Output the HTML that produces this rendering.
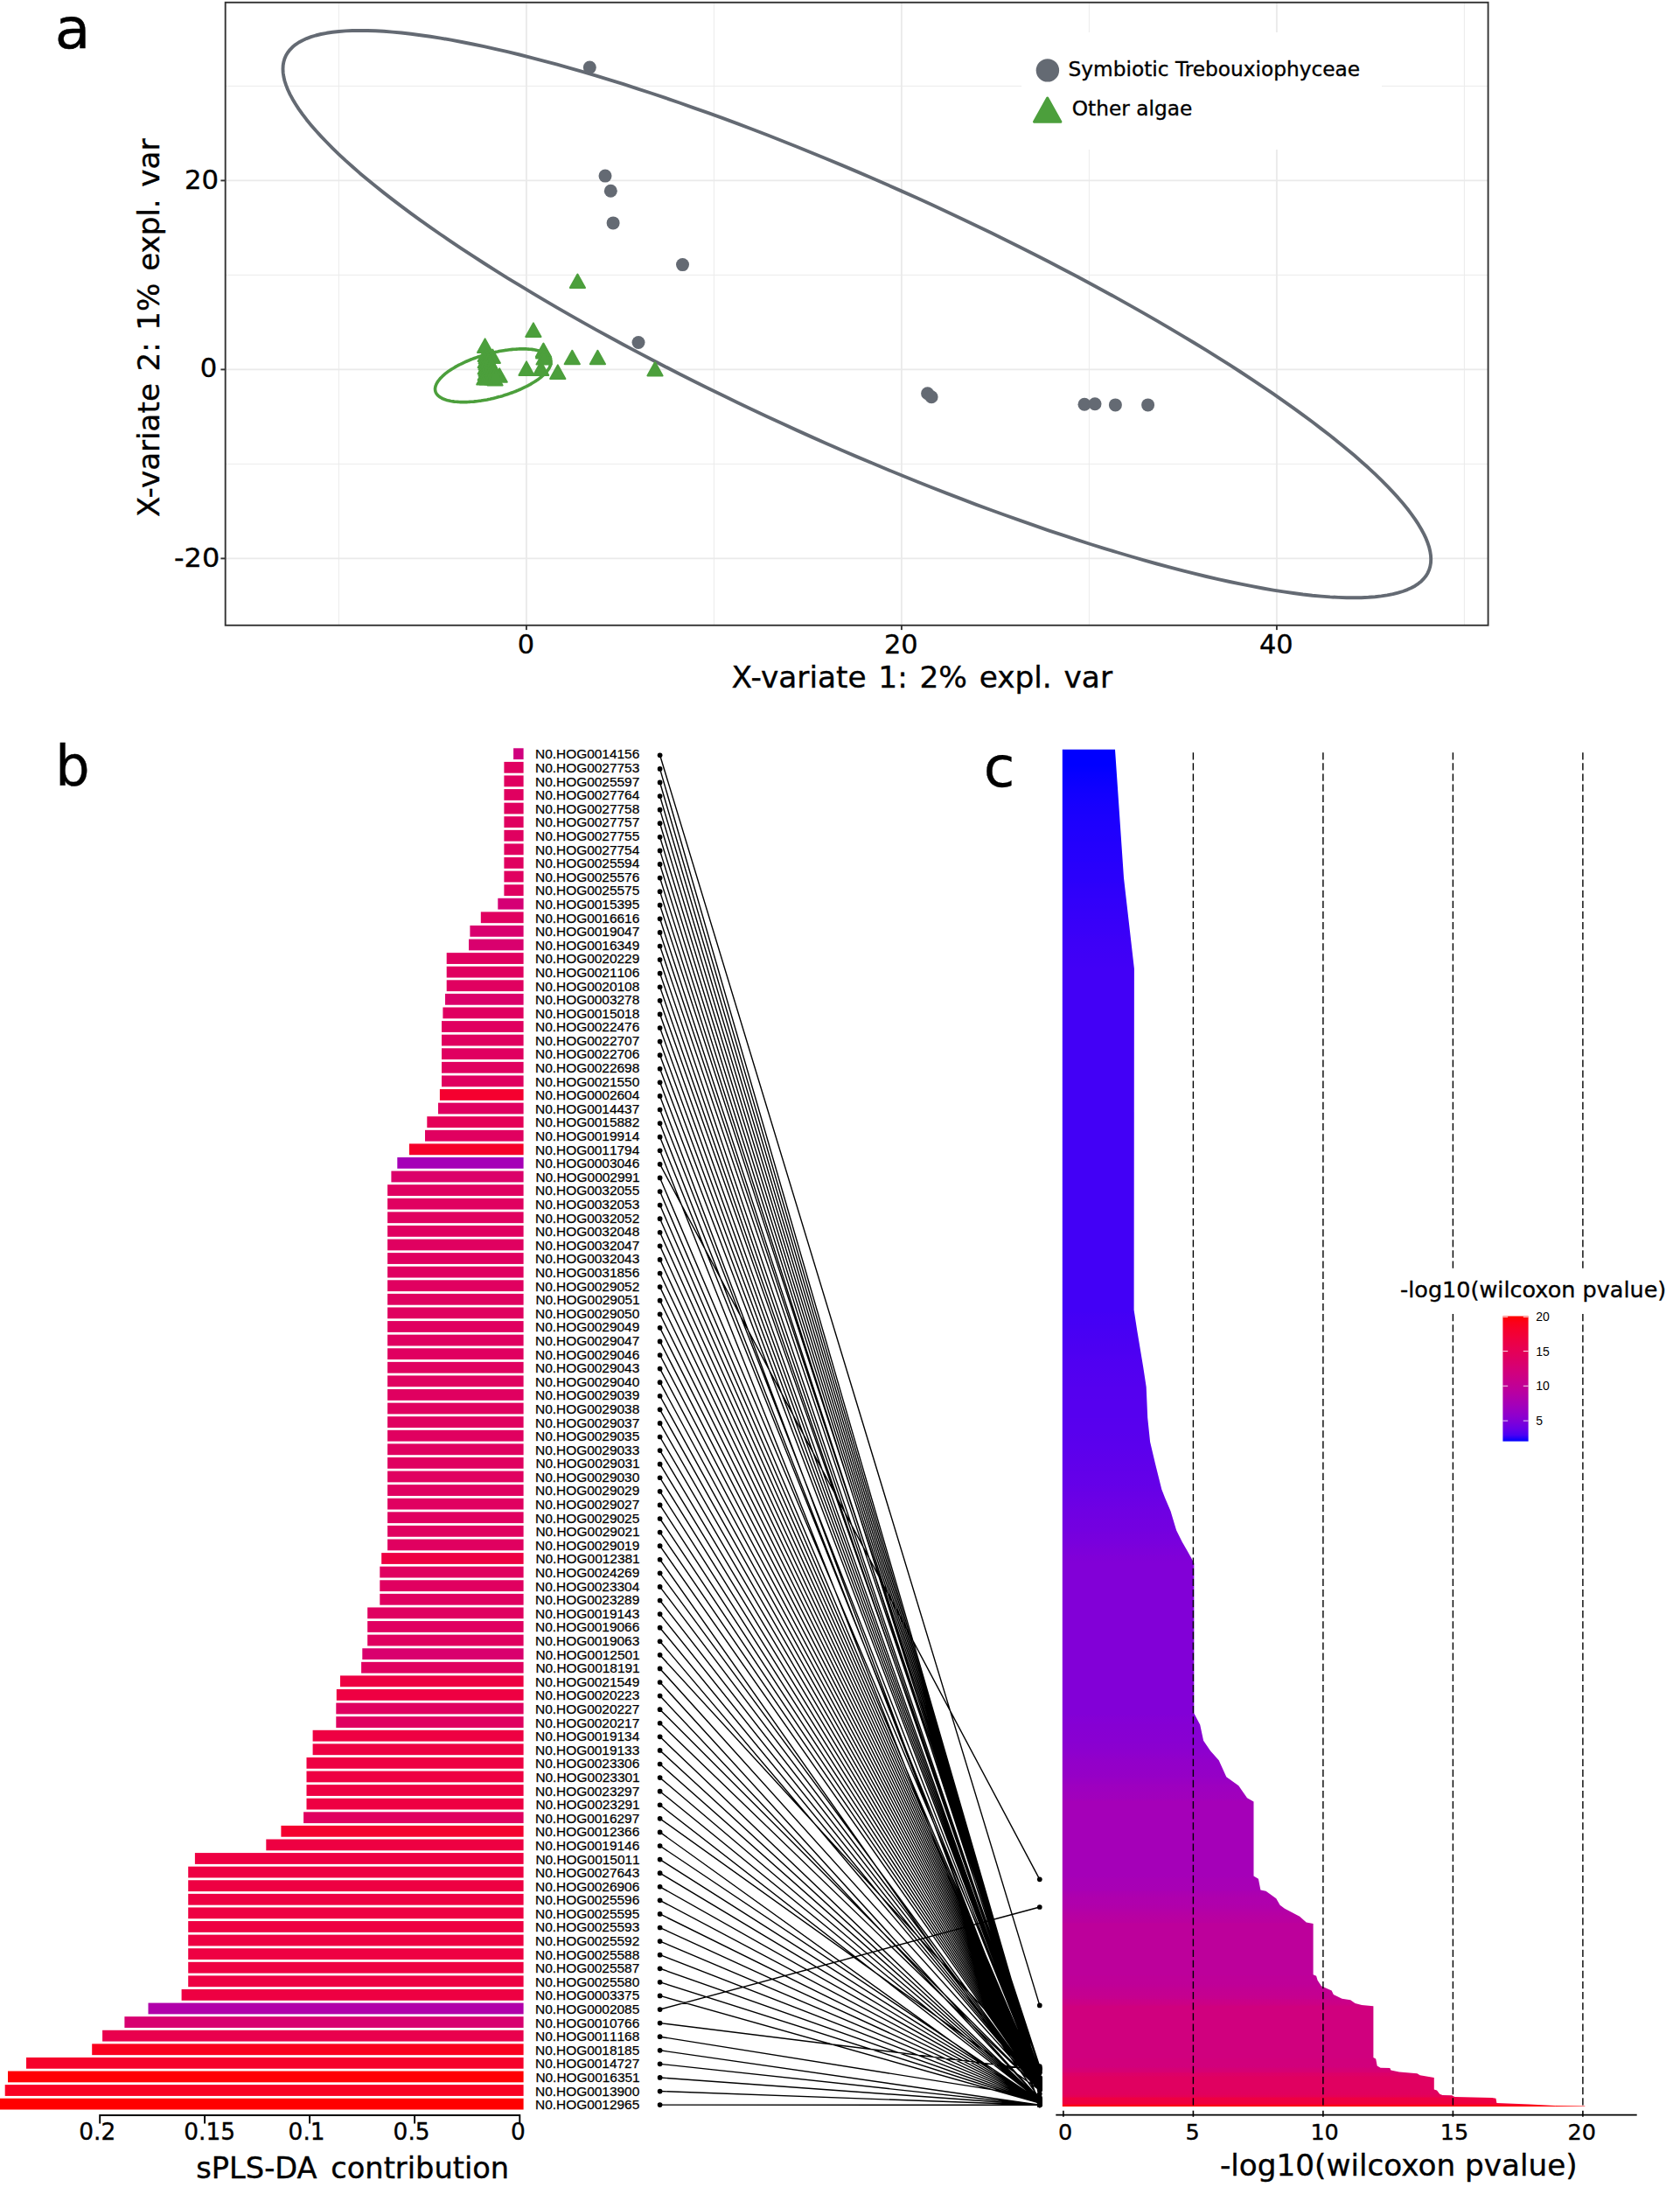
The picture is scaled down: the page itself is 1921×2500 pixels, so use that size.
<!DOCTYPE html>
<html lang="en"><head><meta charset="utf-8"><title>sPLS-DA figure</title>
<style>html,body{margin:0;padding:0;background:#fff}svg{display:block}</style></head>
<body><svg width="1921" height="2500" viewBox="0 0 1921 2500">
<rect width="1921" height="2500" fill="#fff"/>
<g id="panel-a">
<line x1="387.4" y1="2.8" x2="387.4" y2="714.8" stroke="#EBEBEB" stroke-width="1.0"/>
<line x1="816.4" y1="2.8" x2="816.4" y2="714.8" stroke="#EBEBEB" stroke-width="1.0"/>
<line x1="1245.4" y1="2.8" x2="1245.4" y2="714.8" stroke="#EBEBEB" stroke-width="1.0"/>
<line x1="1674.4" y1="2.8" x2="1674.4" y2="714.8" stroke="#EBEBEB" stroke-width="1.0"/>
<line x1="257.7" y1="98.4" x2="1701.6" y2="98.4" stroke="#EBEBEB" stroke-width="1.0"/>
<line x1="257.7" y1="314.4" x2="1701.6" y2="314.4" stroke="#EBEBEB" stroke-width="1.0"/>
<line x1="257.7" y1="530.4" x2="1701.6" y2="530.4" stroke="#EBEBEB" stroke-width="1.0"/>
<line x1="601.9" y1="2.8" x2="601.9" y2="714.8" stroke="#EAEAEA" stroke-width="1.9"/>
<line x1="1030.9" y1="2.8" x2="1030.9" y2="714.8" stroke="#EAEAEA" stroke-width="1.9"/>
<line x1="1459.9" y1="2.8" x2="1459.9" y2="714.8" stroke="#EAEAEA" stroke-width="1.9"/>
<line x1="257.7" y1="206.4" x2="1701.6" y2="206.4" stroke="#EAEAEA" stroke-width="1.9"/>
<line x1="257.7" y1="422.4" x2="1701.6" y2="422.4" stroke="#EAEAEA" stroke-width="1.9"/>
<line x1="257.7" y1="638.4" x2="1701.6" y2="638.4" stroke="#EAEAEA" stroke-width="1.9"/>
<rect x="1168" y="37" width="412" height="134" fill="#fff"/>
<polygon points="1636.2,639.4 1636.0,643.5 1635.3,647.5 1634.2,651.3 1632.6,654.9 1630.6,658.2 1628.1,661.4 1625.2,664.4 1621.9,667.1 1618.1,669.7 1613.8,672.0 1609.2,674.1 1604.1,676.0 1598.6,677.7 1592.6,679.2 1586.2,680.4 1579.5,681.4 1572.3,682.2 1564.7,682.8 1556.7,683.2 1548.3,683.3 1539.5,683.2 1530.3,682.9 1520.8,682.4 1510.8,681.6 1500.6,680.7 1489.9,679.5 1478.9,678.0 1467.6,676.4 1455.9,674.6 1444.0,672.5 1431.7,670.2 1419.0,667.7 1406.1,665.0 1392.9,662.1 1379.4,659.0 1365.6,655.7 1351.6,652.1 1337.3,648.4 1322.8,644.5 1308.0,640.4 1293.0,636.0 1277.8,631.5 1262.4,626.8 1246.8,622.0 1231.0,616.9 1215.1,611.7 1198.9,606.3 1182.7,600.7 1166.3,594.9 1149.7,589.0 1133.1,583.0 1116.3,576.8 1099.5,570.4 1082.5,563.9 1065.5,557.2 1048.5,550.5 1031.3,543.5 1014.2,536.5 997.0,529.3 979.9,522.1 962.7,514.7 945.5,507.2 928.4,499.6 911.2,491.9 894.2,484.1 877.2,476.2 860.2,468.2 843.4,460.2 826.6,452.1 810.0,444.0 793.4,435.7 777.0,427.5 760.8,419.2 744.6,410.8 728.7,402.4 712.9,394.0 697.3,385.5 681.9,377.1 666.7,368.6 651.7,360.1 636.9,351.6 622.4,343.1 608.1,334.6 594.1,326.2 580.3,317.8 566.8,309.4 553.6,301.0 540.7,292.7 528.0,284.4 515.7,276.1 503.8,268.0 492.1,259.9 480.8,251.8 469.8,243.8 459.1,235.9 448.9,228.1 438.9,220.4 429.4,212.8 420.2,205.3 411.4,197.9 403.0,190.5 395.0,183.4 387.4,176.3 380.2,169.3 373.5,162.5 367.1,155.8 361.1,149.3 355.6,142.9 350.5,136.7 345.9,130.6 341.6,124.6 337.8,118.8 334.5,113.2 331.6,107.8 329.1,102.5 327.1,97.4 325.5,92.5 324.4,87.7 323.7,83.2 323.5,78.8 323.7,74.7 324.4,70.7 325.5,66.9 327.1,63.3 329.1,60.0 331.6,56.8 334.5,53.8 337.8,51.1 341.6,48.5 345.9,46.2 350.5,44.1 355.6,42.2 361.1,40.5 367.1,39.0 373.5,37.8 380.2,36.8 387.4,36.0 395.0,35.4 403.0,35.0 411.4,34.9 420.2,35.0 429.4,35.3 438.9,35.8 448.9,36.6 459.1,37.5 469.8,38.7 480.8,40.2 492.1,41.8 503.8,43.6 515.7,45.7 528.0,48.0 540.7,50.5 553.6,53.2 566.8,56.1 580.3,59.2 594.1,62.5 608.1,66.1 622.4,69.8 636.9,73.7 651.7,77.8 666.7,82.2 681.9,86.7 697.3,91.4 712.9,96.2 728.7,101.3 744.6,106.5 760.8,111.9 777.0,117.5 793.4,123.3 810.0,129.2 826.6,135.2 843.4,141.4 860.2,147.8 877.2,154.3 894.2,161.0 911.2,167.7 928.4,174.7 945.5,181.7 962.7,188.9 979.8,196.1 997.0,203.5 1014.2,211.0 1031.3,218.6 1048.5,226.3 1065.5,234.1 1082.5,242.0 1099.5,250.0 1116.3,258.0 1133.1,266.1 1149.7,274.2 1166.3,282.5 1182.7,290.7 1198.9,299.0 1215.1,307.4 1231.0,315.8 1246.8,324.2 1262.4,332.7 1277.8,341.1 1293.0,349.6 1308.0,358.1 1322.8,366.6 1337.3,375.1 1351.6,383.6 1365.6,392.0 1379.4,400.4 1392.9,408.8 1406.1,417.2 1419.0,425.5 1431.7,433.8 1444.0,442.1 1455.9,450.2 1467.6,458.3 1478.9,466.4 1489.9,474.4 1500.6,482.3 1510.8,490.1 1520.8,497.8 1530.3,505.4 1539.5,512.9 1548.3,520.3 1556.7,527.7 1564.7,534.8 1572.3,541.9 1579.5,548.9 1586.2,555.7 1592.6,562.4 1598.6,568.9 1604.1,575.3 1609.2,581.5 1613.8,587.6 1618.1,593.6 1621.9,599.4 1625.2,605.0 1628.1,610.4 1630.6,615.7 1632.6,620.8 1634.2,625.7 1635.3,630.5 1636.0,635.0" fill="none" stroke="#646A73" stroke-width="3.9" stroke-linejoin="round"/>
<polygon points="630.0,413.7 630.0,414.4 630.0,415.1 629.8,415.8 629.7,416.6 629.5,417.3 629.2,418.0 628.9,418.8 628.6,419.5 628.2,420.3 627.8,421.0 627.3,421.8 626.8,422.6 626.2,423.4 625.6,424.1 625.0,424.9 624.3,425.7 623.6,426.5 622.8,427.3 622.0,428.1 621.2,428.9 620.3,429.7 619.4,430.5 618.4,431.3 617.4,432.1 616.4,432.9 615.3,433.7 614.2,434.4 613.0,435.2 611.9,436.0 610.6,436.8 609.4,437.5 608.1,438.3 606.8,439.1 605.5,439.8 604.1,440.6 602.7,441.3 601.3,442.0 599.9,442.7 598.4,443.4 596.9,444.1 595.4,444.8 593.9,445.5 592.3,446.2 590.7,446.8 589.2,447.5 587.5,448.1 585.9,448.7 584.3,449.3 582.6,449.9 580.9,450.5 579.3,451.1 577.6,451.6 575.9,452.1 574.2,452.7 572.4,453.2 570.7,453.6 569.0,454.1 567.3,454.6 565.5,455.0 563.8,455.4 562.1,455.8 560.3,456.2 558.6,456.5 556.9,456.9 555.2,457.2 553.4,457.5 551.7,457.8 550.0,458.1 548.3,458.3 546.7,458.5 545.0,458.7 543.3,458.9 541.7,459.1 540.1,459.2 538.4,459.3 536.9,459.4 535.3,459.5 533.7,459.6 532.2,459.6 530.7,459.6 529.2,459.6 527.7,459.6 526.3,459.6 524.9,459.5 523.5,459.4 522.1,459.3 520.8,459.2 519.5,459.1 518.2,458.9 517.0,458.7 515.7,458.5 514.6,458.3 513.4,458.0 512.3,457.8 511.2,457.5 510.2,457.2 509.2,456.8 508.2,456.5 507.3,456.1 506.4,455.8 505.6,455.4 504.8,454.9 504.0,454.5 503.3,454.0 502.6,453.6 502.0,453.1 501.4,452.6 500.8,452.1 500.3,451.5 499.8,451.0 499.4,450.4 499.0,449.9 498.7,449.3 498.4,448.7 498.1,448.0 497.9,447.4 497.8,446.8 497.6,446.1 497.6,445.4 497.5,444.8 497.6,444.1 497.6,443.4 497.8,442.7 497.9,441.9 498.1,441.2 498.4,440.5 498.7,439.7 499.0,439.0 499.4,438.2 499.8,437.5 500.3,436.7 500.8,435.9 501.4,435.1 502.0,434.4 502.6,433.6 503.3,432.8 504.0,432.0 504.8,431.2 505.6,430.4 506.4,429.6 507.3,428.8 508.2,428.0 509.2,427.2 510.2,426.4 511.2,425.6 512.3,424.8 513.4,424.1 514.6,423.3 515.7,422.5 517.0,421.7 518.2,421.0 519.5,420.2 520.8,419.4 522.1,418.7 523.5,417.9 524.9,417.2 526.3,416.5 527.7,415.8 529.2,415.1 530.7,414.4 532.2,413.7 533.7,413.0 535.3,412.3 536.9,411.7 538.4,411.0 540.1,410.4 541.7,409.8 543.3,409.2 545.0,408.6 546.7,408.0 548.3,407.4 550.0,406.9 551.7,406.4 553.4,405.8 555.2,405.3 556.9,404.9 558.6,404.4 560.3,403.9 562.1,403.5 563.8,403.1 565.5,402.7 567.3,402.3 569.0,402.0 570.7,401.6 572.4,401.3 574.2,401.0 575.9,400.7 577.6,400.4 579.3,400.2 580.9,400.0 582.6,399.8 584.3,399.6 585.9,399.4 587.5,399.3 589.2,399.2 590.7,399.1 592.3,399.0 593.9,398.9 595.4,398.9 596.9,398.9 598.4,398.9 599.9,398.9 601.3,398.9 602.7,399.0 604.1,399.1 605.5,399.2 606.8,399.3 608.1,399.4 609.4,399.6 610.6,399.8 611.9,400.0 613.0,400.2 614.2,400.5 615.3,400.7 616.4,401.0 617.4,401.3 618.4,401.7 619.4,402.0 620.3,402.4 621.2,402.7 622.0,403.1 622.8,403.6 623.6,404.0 624.3,404.5 625.0,404.9 625.6,405.4 626.2,405.9 626.8,406.4 627.3,407.0 627.8,407.5 628.2,408.1 628.6,408.6 628.9,409.2 629.2,409.8 629.5,410.5 629.7,411.1 629.8,411.7 630.0,412.4 630.0,413.1" fill="none" stroke="#4C9F3C" stroke-width="3.6" stroke-linejoin="round"/>
<circle cx="674.3" cy="77.1" r="7.5" fill="#646A73"/>
<circle cx="692" cy="201.1" r="7.5" fill="#646A73"/>
<circle cx="698.3" cy="218.3" r="7.5" fill="#646A73"/>
<circle cx="701.1" cy="254.9" r="7.5" fill="#646A73"/>
<circle cx="780.5" cy="302.6" r="7.5" fill="#646A73"/>
<circle cx="730.0" cy="391.5" r="7.5" fill="#646A73"/>
<circle cx="1060.6" cy="449.7" r="7.5" fill="#646A73"/>
<circle cx="1065.1" cy="453.7" r="7.5" fill="#646A73"/>
<circle cx="1240" cy="462.3" r="7.5" fill="#646A73"/>
<circle cx="1252" cy="461.7" r="7.5" fill="#646A73"/>
<circle cx="1275.4" cy="462.9" r="7.5" fill="#646A73"/>
<circle cx="1312.6" cy="462.9" r="7.5" fill="#646A73"/>
<polygon points="660.4,313.5 651.8,329.0 669.0,329.0" fill="#4C9F3C" stroke="#4C9F3C" stroke-width="2" stroke-linejoin="round"/>
<polygon points="609.9,369.4 601.2,384.9 618.5,384.9" fill="#4C9F3C" stroke="#4C9F3C" stroke-width="2" stroke-linejoin="round"/>
<polygon points="654.3,400.7 645.6,416.2 662.9,416.2" fill="#4C9F3C" stroke="#4C9F3C" stroke-width="2" stroke-linejoin="round"/>
<polygon points="683.4,400.7 674.8,416.2 692.0,416.2" fill="#4C9F3C" stroke="#4C9F3C" stroke-width="2" stroke-linejoin="round"/>
<polygon points="749.0,414.0 740.4,429.5 757.6,429.5" fill="#4C9F3C" stroke="#4C9F3C" stroke-width="2" stroke-linejoin="round"/>
<polygon points="637.8,417.4 629.1,432.9 646.4,432.9" fill="#4C9F3C" stroke="#4C9F3C" stroke-width="2" stroke-linejoin="round"/>
<polygon points="602.0,413.4 593.4,428.9 610.6,428.9" fill="#4C9F3C" stroke="#4C9F3C" stroke-width="2" stroke-linejoin="round"/>
<polygon points="621.4,392.5 612.8,408.0 630.0,408.0" fill="#4C9F3C" stroke="#4C9F3C" stroke-width="2" stroke-linejoin="round"/>
<polygon points="621.7,394.1 613.1,409.6 630.4,409.6" fill="#4C9F3C" stroke="#4C9F3C" stroke-width="2" stroke-linejoin="round"/>
<polygon points="622.1,401.1 613.5,416.6 630.8,416.6" fill="#4C9F3C" stroke="#4C9F3C" stroke-width="2" stroke-linejoin="round"/>
<polygon points="618.6,413.4 610.0,428.9 627.2,428.9" fill="#4C9F3C" stroke="#4C9F3C" stroke-width="2" stroke-linejoin="round"/>
<polygon points="554.6,387.4 546.0,402.9 563.2,402.9" fill="#4C9F3C" stroke="#4C9F3C" stroke-width="2" stroke-linejoin="round"/>
<polygon points="563.2,399.5 554.6,415.0 571.9,415.0" fill="#4C9F3C" stroke="#4C9F3C" stroke-width="2" stroke-linejoin="round"/>
<polygon points="571.1,421.3 562.5,436.8 579.8,436.8" fill="#4C9F3C" stroke="#4C9F3C" stroke-width="2" stroke-linejoin="round"/>
<polygon points="566.0,424.9 557.4,440.4 574.6,440.4" fill="#4C9F3C" stroke="#4C9F3C" stroke-width="2" stroke-linejoin="round"/>
<polygon points="553.9,424.1 545.2,439.6 562.5,439.6" fill="#4C9F3C" stroke="#4C9F3C" stroke-width="2" stroke-linejoin="round"/>
<polygon points="560.0,423.0 551.4,438.5 568.6,438.5" fill="#4C9F3C" stroke="#4C9F3C" stroke-width="2" stroke-linejoin="round"/>
<polygon points="563.0,424.0 554.4,439.5 571.6,439.5" fill="#4C9F3C" stroke="#4C9F3C" stroke-width="2" stroke-linejoin="round"/>
<polygon points="555.2,397.5 546.6,413.0 563.9,413.0" fill="#4C9F3C" stroke="#4C9F3C" stroke-width="2" stroke-linejoin="round"/>
<polygon points="556.1,399.9 547.5,415.4 564.8,415.4" fill="#4C9F3C" stroke="#4C9F3C" stroke-width="2" stroke-linejoin="round"/>
<polygon points="557.0,402.3 548.4,417.8 565.6,417.8" fill="#4C9F3C" stroke="#4C9F3C" stroke-width="2" stroke-linejoin="round"/>
<polygon points="555.2,404.7 546.6,420.2 563.9,420.2" fill="#4C9F3C" stroke="#4C9F3C" stroke-width="2" stroke-linejoin="round"/>
<polygon points="556.1,407.1 547.5,422.6 564.8,422.6" fill="#4C9F3C" stroke="#4C9F3C" stroke-width="2" stroke-linejoin="round"/>
<polygon points="557.0,409.5 548.4,425.0 565.6,425.0" fill="#4C9F3C" stroke="#4C9F3C" stroke-width="2" stroke-linejoin="round"/>
<polygon points="555.2,411.9 546.6,427.4 563.9,427.4" fill="#4C9F3C" stroke="#4C9F3C" stroke-width="2" stroke-linejoin="round"/>
<polygon points="556.1,414.3 547.5,429.8 564.8,429.8" fill="#4C9F3C" stroke="#4C9F3C" stroke-width="2" stroke-linejoin="round"/>
<polygon points="557.0,416.7 548.4,432.2 565.6,432.2" fill="#4C9F3C" stroke="#4C9F3C" stroke-width="2" stroke-linejoin="round"/>
<polygon points="555.2,419.1 546.6,434.6 563.9,434.6" fill="#4C9F3C" stroke="#4C9F3C" stroke-width="2" stroke-linejoin="round"/>
<polygon points="556.1,421.5 547.5,437.0 564.8,437.0" fill="#4C9F3C" stroke="#4C9F3C" stroke-width="2" stroke-linejoin="round"/>
<polygon points="557.0,423.9 548.4,439.4 565.6,439.4" fill="#4C9F3C" stroke="#4C9F3C" stroke-width="2" stroke-linejoin="round"/>
<polygon points="559.0,404.5 550.4,420.0 567.6,420.0" fill="#4C9F3C" stroke="#4C9F3C" stroke-width="2" stroke-linejoin="round"/>
<polygon points="560.6,407.7 552.0,423.2 569.2,423.2" fill="#4C9F3C" stroke="#4C9F3C" stroke-width="2" stroke-linejoin="round"/>
<polygon points="562.2,410.9 553.6,426.4 570.9,426.4" fill="#4C9F3C" stroke="#4C9F3C" stroke-width="2" stroke-linejoin="round"/>
<polygon points="563.8,414.1 555.1,429.6 572.4,429.6" fill="#4C9F3C" stroke="#4C9F3C" stroke-width="2" stroke-linejoin="round"/>
<polygon points="565.4,417.3 556.8,432.8 574.0,432.8" fill="#4C9F3C" stroke="#4C9F3C" stroke-width="2" stroke-linejoin="round"/>
<polygon points="567.0,420.5 558.4,436.0 575.6,436.0" fill="#4C9F3C" stroke="#4C9F3C" stroke-width="2" stroke-linejoin="round"/>
<rect x="257.7" y="2.8" width="1443.8999999999999" height="712.0" fill="none" stroke="#333" stroke-width="1.9"/>
<line x1="601.9" y1="714.8" x2="601.9" y2="720.0999999999999" stroke="#333" stroke-width="1.9"/>
<line x1="1030.9" y1="714.8" x2="1030.9" y2="720.0999999999999" stroke="#333" stroke-width="1.9"/>
<line x1="1459.9" y1="714.8" x2="1459.9" y2="720.0999999999999" stroke="#333" stroke-width="1.9"/>
<line x1="252.39999999999998" y1="206.4" x2="257.7" y2="206.4" stroke="#333" stroke-width="1.9"/>
<line x1="252.39999999999998" y1="422.4" x2="257.7" y2="422.4" stroke="#333" stroke-width="1.9"/>
<line x1="252.39999999999998" y1="638.4" x2="257.7" y2="638.4" stroke="#333" stroke-width="1.9"/>
<text transform="translate(601.30,747.10) scale(0.9800,1)" font-family="'DejaVu Sans','Verdana',sans-serif" font-size="31" text-anchor="middle" fill="#000" stroke="#000" stroke-width="0.35">0</text>
<text transform="translate(1030.30,747.10) scale(0.9800,1)" font-family="'DejaVu Sans','Verdana',sans-serif" font-size="31" text-anchor="middle" fill="#000" stroke="#000" stroke-width="0.35">20</text>
<text transform="translate(1459.30,747.10) scale(0.9800,1)" font-family="'DejaVu Sans','Verdana',sans-serif" font-size="31" text-anchor="middle" fill="#000" stroke="#000" stroke-width="0.35">40</text>
<text transform="translate(250.10,216.00)" font-family="'DejaVu Sans','Verdana',sans-serif" font-size="30.7" text-anchor="end" fill="#000" stroke="#000" stroke-width="0.35">20</text>
<text transform="translate(248.20,431.10)" font-family="'DejaVu Sans','Verdana',sans-serif" font-size="30.7" text-anchor="end" fill="#000" stroke="#000" stroke-width="0.35">0</text>
<text transform="translate(251.20,647.50) scale(1.0400,1)" font-family="'DejaVu Sans','Verdana',sans-serif" font-size="30.7" text-anchor="end" fill="#000" stroke="#000" stroke-width="0.35">-20</text>
<text transform="translate(1054.30,786.00) scale(1.0200,1)" font-family="'DejaVu Sans','Verdana',sans-serif" font-size="33.7" word-spacing="2.75" text-anchor="middle" fill="#000" stroke="#000" stroke-width="0.35">X-variate 1: 2% expl. var</text>
<text transform="translate(182.20,374.80) rotate(-90) scale(1.0130,1)" font-family="'DejaVu Sans','Verdana',sans-serif" font-size="33.7" word-spacing="2.75" text-anchor="middle" fill="#000" stroke="#000" stroke-width="0.35">X-variate 2: 1% expl. var</text>
<circle cx="1197.9" cy="80.4" r="13.2" fill="#646A73"/>
<polygon points="1197.7,112 1182.5,139.2 1212.9,139.2" fill="#4C9F3C" stroke="#4C9F3C" stroke-width="3" stroke-linejoin="round"/>
<text transform="translate(1221.50,86.70) scale(0.9900,1)" font-family="'DejaVu Sans','Verdana',sans-serif" font-size="23.5" text-anchor="start" fill="#000" stroke="#000" stroke-width="0.35">Symbiotic Trebouxiophyceae</text>
<text transform="translate(1225.80,131.70) scale(0.9900,1)" font-family="'DejaVu Sans','Verdana',sans-serif" font-size="23.5" text-anchor="start" fill="#000" stroke="#000" stroke-width="0.35">Other algae</text>
<text transform="translate(62.70,55.20) scale(1.0300,1)" font-family="'DejaVu Sans','Verdana',sans-serif" font-size="64.5" text-anchor="start" fill="#000" stroke="#000" stroke-width="0.35">a</text>
</g>
<g id="panel-b">
<text transform="translate(63.20,898.00) scale(0.9700,1)" font-family="'DejaVu Sans','Verdana',sans-serif" font-size="64" text-anchor="start" fill="#000" stroke="#000" stroke-width="0.35">b</text>
<rect x="587.1" y="855.30" width="11.5" height="12.8" fill="#D0007E"/>
<rect x="576.4" y="870.89" width="22.2" height="12.8" fill="#E00060"/>
<rect x="576.4" y="886.48" width="22.2" height="12.8" fill="#E00060"/>
<rect x="576.4" y="902.07" width="22.2" height="12.8" fill="#E00060"/>
<rect x="576.4" y="917.66" width="22.2" height="12.8" fill="#E00060"/>
<rect x="576.4" y="933.25" width="22.2" height="12.8" fill="#E00060"/>
<rect x="576.4" y="948.84" width="22.2" height="12.8" fill="#E00060"/>
<rect x="576.4" y="964.43" width="22.2" height="12.8" fill="#E00060"/>
<rect x="576.4" y="980.02" width="22.2" height="12.8" fill="#E00060"/>
<rect x="576.4" y="995.61" width="22.2" height="12.8" fill="#E00060"/>
<rect x="576.4" y="1011.20" width="22.2" height="12.8" fill="#E00060"/>
<rect x="569.3" y="1026.79" width="29.3" height="12.8" fill="#D50075"/>
<rect x="549.8" y="1042.38" width="48.8" height="12.8" fill="#E00060"/>
<rect x="537.4" y="1057.97" width="61.2" height="12.8" fill="#D9006E"/>
<rect x="536.0" y="1073.56" width="62.6" height="12.8" fill="#D9006E"/>
<rect x="510.7" y="1089.15" width="87.9" height="12.8" fill="#E00060"/>
<rect x="510.7" y="1104.74" width="87.9" height="12.8" fill="#E00060"/>
<rect x="510.7" y="1120.33" width="87.9" height="12.8" fill="#E00060"/>
<rect x="509.0" y="1135.92" width="89.6" height="12.8" fill="#DB006A"/>
<rect x="506.4" y="1151.51" width="92.2" height="12.8" fill="#E00060"/>
<rect x="505.0" y="1167.10" width="93.6" height="12.8" fill="#E00060"/>
<rect x="505.0" y="1182.69" width="93.6" height="12.8" fill="#E00060"/>
<rect x="505.0" y="1198.28" width="93.6" height="12.8" fill="#E00060"/>
<rect x="505.0" y="1213.87" width="93.6" height="12.8" fill="#E00060"/>
<rect x="505.0" y="1229.46" width="93.6" height="12.8" fill="#E00060"/>
<rect x="502.9" y="1245.05" width="95.7" height="12.8" fill="#F5002F"/>
<rect x="501.0" y="1260.64" width="97.6" height="12.8" fill="#E00060"/>
<rect x="488.3" y="1276.23" width="110.3" height="12.8" fill="#E50057"/>
<rect x="486.0" y="1291.82" width="112.6" height="12.8" fill="#E00060"/>
<rect x="467.9" y="1307.41" width="130.7" height="12.8" fill="#F6002A"/>
<rect x="454.3" y="1323.00" width="144.3" height="12.8" fill="#A500B7"/>
<rect x="447.4" y="1338.59" width="151.2" height="12.8" fill="#DB006A"/>
<rect x="443.1" y="1354.18" width="155.5" height="12.8" fill="#E00060"/>
<rect x="443.1" y="1369.77" width="155.5" height="12.8" fill="#E00060"/>
<rect x="443.1" y="1385.36" width="155.5" height="12.8" fill="#E00060"/>
<rect x="443.1" y="1400.95" width="155.5" height="12.8" fill="#E00060"/>
<rect x="443.1" y="1416.54" width="155.5" height="12.8" fill="#E00060"/>
<rect x="443.1" y="1432.13" width="155.5" height="12.8" fill="#E00060"/>
<rect x="443.1" y="1447.72" width="155.5" height="12.8" fill="#E00060"/>
<rect x="443.1" y="1463.31" width="155.5" height="12.8" fill="#E00060"/>
<rect x="443.1" y="1478.90" width="155.5" height="12.8" fill="#E00060"/>
<rect x="443.1" y="1494.49" width="155.5" height="12.8" fill="#E00060"/>
<rect x="443.1" y="1510.08" width="155.5" height="12.8" fill="#E00060"/>
<rect x="443.1" y="1525.67" width="155.5" height="12.8" fill="#E00060"/>
<rect x="443.1" y="1541.26" width="155.5" height="12.8" fill="#E00060"/>
<rect x="443.1" y="1556.85" width="155.5" height="12.8" fill="#E00060"/>
<rect x="443.1" y="1572.44" width="155.5" height="12.8" fill="#E00060"/>
<rect x="443.1" y="1588.03" width="155.5" height="12.8" fill="#E00060"/>
<rect x="443.1" y="1603.62" width="155.5" height="12.8" fill="#E00060"/>
<rect x="443.1" y="1619.21" width="155.5" height="12.8" fill="#E00060"/>
<rect x="443.1" y="1634.80" width="155.5" height="12.8" fill="#E00060"/>
<rect x="443.1" y="1650.39" width="155.5" height="12.8" fill="#E00060"/>
<rect x="443.1" y="1665.98" width="155.5" height="12.8" fill="#E00060"/>
<rect x="443.1" y="1681.57" width="155.5" height="12.8" fill="#E00060"/>
<rect x="443.1" y="1697.16" width="155.5" height="12.8" fill="#E00060"/>
<rect x="443.1" y="1712.75" width="155.5" height="12.8" fill="#E00060"/>
<rect x="443.1" y="1728.34" width="155.5" height="12.8" fill="#E00060"/>
<rect x="443.1" y="1743.93" width="155.5" height="12.8" fill="#E00060"/>
<rect x="443.1" y="1759.52" width="155.5" height="12.8" fill="#E00060"/>
<rect x="436.2" y="1775.11" width="162.4" height="12.8" fill="#EE0042"/>
<rect x="434.3" y="1790.70" width="164.3" height="12.8" fill="#E00060"/>
<rect x="434.3" y="1806.29" width="164.3" height="12.8" fill="#E00060"/>
<rect x="434.3" y="1821.88" width="164.3" height="12.8" fill="#E00060"/>
<rect x="420.2" y="1837.47" width="178.4" height="12.8" fill="#E00060"/>
<rect x="420.2" y="1853.06" width="178.4" height="12.8" fill="#E00060"/>
<rect x="420.2" y="1868.65" width="178.4" height="12.8" fill="#E00060"/>
<rect x="414.3" y="1884.24" width="184.3" height="12.8" fill="#D9006E"/>
<rect x="413.1" y="1899.83" width="185.5" height="12.8" fill="#E00060"/>
<rect x="389.0" y="1915.42" width="209.6" height="12.8" fill="#EE0042"/>
<rect x="384.8" y="1931.01" width="213.8" height="12.8" fill="#EE0042"/>
<rect x="384.3" y="1946.60" width="214.3" height="12.8" fill="#E00060"/>
<rect x="384.3" y="1962.19" width="214.3" height="12.8" fill="#E00060"/>
<rect x="357.6" y="1977.78" width="241.0" height="12.8" fill="#EE0042"/>
<rect x="357.6" y="1993.37" width="241.0" height="12.8" fill="#EE0042"/>
<rect x="350.5" y="2008.96" width="248.1" height="12.8" fill="#EE0042"/>
<rect x="350.5" y="2024.55" width="248.1" height="12.8" fill="#EE0042"/>
<rect x="350.5" y="2040.14" width="248.1" height="12.8" fill="#EE0042"/>
<rect x="350.5" y="2055.73" width="248.1" height="12.8" fill="#EE0042"/>
<rect x="347.1" y="2071.32" width="251.5" height="12.8" fill="#E00060"/>
<rect x="321.4" y="2086.91" width="277.2" height="12.8" fill="#F5002F"/>
<rect x="304.3" y="2102.50" width="294.3" height="12.8" fill="#EE0042"/>
<rect x="222.9" y="2118.09" width="375.7" height="12.8" fill="#EE0042"/>
<rect x="215.2" y="2133.68" width="383.4" height="12.8" fill="#EE0042"/>
<rect x="215.2" y="2149.27" width="383.4" height="12.8" fill="#EE0042"/>
<rect x="215.2" y="2164.86" width="383.4" height="12.8" fill="#EE0042"/>
<rect x="215.2" y="2180.45" width="383.4" height="12.8" fill="#EE0042"/>
<rect x="215.2" y="2196.04" width="383.4" height="12.8" fill="#EE0042"/>
<rect x="215.2" y="2211.63" width="383.4" height="12.8" fill="#EE0042"/>
<rect x="215.2" y="2227.22" width="383.4" height="12.8" fill="#EE0042"/>
<rect x="215.2" y="2242.81" width="383.4" height="12.8" fill="#EE0042"/>
<rect x="215.2" y="2258.40" width="383.4" height="12.8" fill="#EE0042"/>
<rect x="207.6" y="2273.99" width="391.0" height="12.8" fill="#EE0042"/>
<rect x="169.5" y="2289.58" width="429.1" height="12.8" fill="#B100AA"/>
<rect x="142.4" y="2305.17" width="456.2" height="12.8" fill="#D80070"/>
<rect x="117.1" y="2320.76" width="481.5" height="12.8" fill="#E9004D"/>
<rect x="105.2" y="2336.35" width="493.4" height="12.8" fill="#FA001E"/>
<rect x="30.0" y="2351.94" width="568.6" height="12.8" fill="#F6002A"/>
<rect x="9.0" y="2367.53" width="589.6" height="12.8" fill="#FF0003"/>
<rect x="5.7" y="2383.12" width="592.9" height="12.8" fill="#F90022"/>
<rect x="-2.0" y="2398.71" width="600.6" height="12.8" fill="#FF0000"/>
<g font-family="'Liberation Sans','Arial',sans-serif" font-size="15.45" text-anchor="end" fill="#000" stroke="#000" stroke-width="0.25" style="font-kerning:none">
<text x="731.3" y="867.40">N0.HOG0014156</text>
<text x="731.3" y="882.99">N0.HOG0027753</text>
<text x="731.3" y="898.59">N0.HOG0025597</text>
<text x="731.3" y="914.18">N0.HOG0027764</text>
<text x="731.3" y="929.78">N0.HOG0027758</text>
<text x="731.3" y="945.37">N0.HOG0027757</text>
<text x="731.3" y="960.96">N0.HOG0027755</text>
<text x="731.3" y="976.56">N0.HOG0027754</text>
<text x="731.3" y="992.15">N0.HOG0025594</text>
<text x="731.3" y="1007.75">N0.HOG0025576</text>
<text x="731.3" y="1023.34">N0.HOG0025575</text>
<text x="731.3" y="1038.93">N0.HOG0015395</text>
<text x="731.3" y="1054.53">N0.HOG0016616</text>
<text x="731.3" y="1070.12">N0.HOG0019047</text>
<text x="731.3" y="1085.72">N0.HOG0016349</text>
<text x="731.3" y="1101.31">N0.HOG0020229</text>
<text x="731.3" y="1116.90">N0.HOG0021106</text>
<text x="731.3" y="1132.50">N0.HOG0020108</text>
<text x="731.3" y="1148.09">N0.HOG0003278</text>
<text x="731.3" y="1163.69">N0.HOG0015018</text>
<text x="731.3" y="1179.28">N0.HOG0022476</text>
<text x="731.3" y="1194.87">N0.HOG0022707</text>
<text x="731.3" y="1210.47">N0.HOG0022706</text>
<text x="731.3" y="1226.06">N0.HOG0022698</text>
<text x="731.3" y="1241.66">N0.HOG0021550</text>
<text x="731.3" y="1257.25">N0.HOG0002604</text>
<text x="731.3" y="1272.84">N0.HOG0014437</text>
<text x="731.3" y="1288.44">N0.HOG0015882</text>
<text x="731.3" y="1304.03">N0.HOG0019914</text>
<text x="731.3" y="1319.63">N0.HOG0011794</text>
<text x="731.3" y="1335.22">N0.HOG0003046</text>
<text x="731.7" y="1350.81">N0.HOG0002991</text>
<text x="731.3" y="1366.41">N0.HOG0032055</text>
<text x="731.3" y="1382.00">N0.HOG0032053</text>
<text x="731.3" y="1397.60">N0.HOG0032052</text>
<text x="731.3" y="1413.19">N0.HOG0032048</text>
<text x="731.3" y="1428.78">N0.HOG0032047</text>
<text x="731.3" y="1444.38">N0.HOG0032043</text>
<text x="731.3" y="1459.97">N0.HOG0031856</text>
<text x="731.3" y="1475.57">N0.HOG0029052</text>
<text x="731.7" y="1491.16">N0.HOG0029051</text>
<text x="731.3" y="1506.75">N0.HOG0029050</text>
<text x="731.3" y="1522.35">N0.HOG0029049</text>
<text x="731.3" y="1537.94">N0.HOG0029047</text>
<text x="731.3" y="1553.54">N0.HOG0029046</text>
<text x="731.3" y="1569.13">N0.HOG0029043</text>
<text x="731.3" y="1584.72">N0.HOG0029040</text>
<text x="731.3" y="1600.32">N0.HOG0029039</text>
<text x="731.3" y="1615.91">N0.HOG0029038</text>
<text x="731.3" y="1631.51">N0.HOG0029037</text>
<text x="731.3" y="1647.10">N0.HOG0029035</text>
<text x="731.3" y="1662.69">N0.HOG0029033</text>
<text x="731.7" y="1678.29">N0.HOG0029031</text>
<text x="731.3" y="1693.88">N0.HOG0029030</text>
<text x="731.3" y="1709.48">N0.HOG0029029</text>
<text x="731.3" y="1725.07">N0.HOG0029027</text>
<text x="731.3" y="1740.66">N0.HOG0029025</text>
<text x="731.7" y="1756.26">N0.HOG0029021</text>
<text x="731.3" y="1771.85">N0.HOG0029019</text>
<text x="731.7" y="1787.45">N0.HOG0012381</text>
<text x="731.3" y="1803.04">N0.HOG0024269</text>
<text x="731.3" y="1818.63">N0.HOG0023304</text>
<text x="731.3" y="1834.23">N0.HOG0023289</text>
<text x="731.3" y="1849.82">N0.HOG0019143</text>
<text x="731.3" y="1865.42">N0.HOG0019066</text>
<text x="731.3" y="1881.01">N0.HOG0019063</text>
<text x="731.7" y="1896.60">N0.HOG0012501</text>
<text x="731.7" y="1912.20">N0.HOG0018191</text>
<text x="731.3" y="1927.79">N0.HOG0021549</text>
<text x="731.3" y="1943.39">N0.HOG0020223</text>
<text x="731.3" y="1958.98">N0.HOG0020227</text>
<text x="731.3" y="1974.57">N0.HOG0020217</text>
<text x="731.3" y="1990.17">N0.HOG0019134</text>
<text x="731.3" y="2005.76">N0.HOG0019133</text>
<text x="731.3" y="2021.36">N0.HOG0023306</text>
<text x="731.7" y="2036.95">N0.HOG0023301</text>
<text x="731.3" y="2052.54">N0.HOG0023297</text>
<text x="731.7" y="2068.14">N0.HOG0023291</text>
<text x="731.3" y="2083.73">N0.HOG0016297</text>
<text x="731.3" y="2099.33">N0.HOG0012366</text>
<text x="731.3" y="2114.92">N0.HOG0019146</text>
<text x="731.7" y="2130.51">N0.HOG0015011</text>
<text x="731.3" y="2146.11">N0.HOG0027643</text>
<text x="731.3" y="2161.70">N0.HOG0026906</text>
<text x="731.3" y="2177.30">N0.HOG0025596</text>
<text x="731.3" y="2192.89">N0.HOG0025595</text>
<text x="731.3" y="2208.48">N0.HOG0025593</text>
<text x="731.3" y="2224.08">N0.HOG0025592</text>
<text x="731.3" y="2239.67">N0.HOG0025588</text>
<text x="731.3" y="2255.27">N0.HOG0025587</text>
<text x="731.3" y="2270.86">N0.HOG0025580</text>
<text x="731.3" y="2286.45">N0.HOG0003375</text>
<text x="731.3" y="2302.05">N0.HOG0002085</text>
<text x="731.3" y="2317.64">N0.HOG0010766</text>
<text x="731.3" y="2333.24">N0.HOG0011168</text>
<text x="731.3" y="2348.83">N0.HOG0018185</text>
<text x="731.3" y="2364.42">N0.HOG0014727</text>
<text x="731.7" y="2380.02">N0.HOG0016351</text>
<text x="731.3" y="2395.61">N0.HOG0013900</text>
<text x="731.3" y="2411.21">N0.HOG0012965</text>
</g>
<path d="M114.2,2427.5 V2418 H594.3 V2427.5 M234.1,2418 v9.5 M354.1,2418 v9.5 M474.1,2418 v9.5" fill="none" stroke="#000" stroke-width="1.9"/>
<text transform="translate(111.20,2445.80) scale(1.0200,1)" font-family="'DejaVu Sans','Verdana',sans-serif" font-size="25.9" text-anchor="middle" fill="#000" stroke="#000" stroke-width="0.35">0.2</text>
<text transform="translate(239.70,2445.80) scale(1.0200,1)" font-family="'DejaVu Sans','Verdana',sans-serif" font-size="25.9" text-anchor="middle" fill="#000" stroke="#000" stroke-width="0.35">0.15</text>
<text transform="translate(350.60,2445.80) scale(1.0200,1)" font-family="'DejaVu Sans','Verdana',sans-serif" font-size="25.9" text-anchor="middle" fill="#000" stroke="#000" stroke-width="0.35">0.1</text>
<text transform="translate(470.60,2445.80) scale(1.0200,1)" font-family="'DejaVu Sans','Verdana',sans-serif" font-size="25.9" text-anchor="middle" fill="#000" stroke="#000" stroke-width="0.35">0.5</text>
<text transform="translate(592.30,2445.80) scale(1.0200,1)" font-family="'DejaVu Sans','Verdana',sans-serif" font-size="25.9" text-anchor="middle" fill="#000" stroke="#000" stroke-width="0.35">0</text>
<text transform="translate(403.20,2489.70) scale(1.0200,1)" font-family="'DejaVu Sans','Verdana',sans-serif" font-size="33" word-spacing="4.8" text-anchor="middle" fill="#000" stroke="#000" stroke-width="0.35">sPLS-DA contribution</text>
</g>
<g id="links">
<path d="M754.6,863.30L1188.8,2292.40M754.6,878.88L1188.8,2374.92M754.6,894.47L1188.8,2375.17M754.6,910.05L1188.8,2375.42M754.6,925.64L1188.8,2375.67M754.6,941.22L1188.8,2375.91M754.6,956.80L1188.8,2376.16M754.6,972.39L1188.8,2376.41M754.6,987.97L1188.8,2376.66M754.6,1003.56L1188.8,2376.90M754.6,1019.14L1188.8,2377.15M754.6,1034.72L1188.8,2362.20M754.6,1050.31L1188.8,2377.40M754.6,1065.89L1188.8,2364.30M754.6,1081.48L1188.8,2364.80M754.6,1097.06L1188.8,2377.65M754.6,1112.64L1188.8,2377.89M754.6,1128.23L1188.8,2378.14M754.6,1143.81L1188.8,2368.50M754.6,1159.40L1188.8,2378.39M754.6,1174.98L1188.8,2378.64M754.6,1190.56L1188.8,2378.88M754.6,1206.15L1188.8,2379.13M754.6,1221.73L1188.8,2379.38M754.6,1237.32L1188.8,2379.63M754.6,1252.90L1188.8,2405.50M754.6,1268.48L1188.8,2379.87M754.6,1284.07L1188.8,2393.40M754.6,1299.65L1188.8,2380.12M754.6,1315.24L1188.8,2406.00M754.6,1330.82L1188.8,2148.30M754.6,1346.40L1188.8,2369.50M754.6,1361.99L1188.8,2380.37M754.6,1377.57L1188.8,2380.62M754.6,1393.16L1188.8,2380.86M754.6,1408.74L1188.8,2381.11M754.6,1424.32L1188.8,2381.36M754.6,1439.91L1188.8,2381.61M754.6,1455.49L1188.8,2381.85M754.6,1471.08L1188.8,2382.10M754.6,1486.66L1188.8,2382.35M754.6,1502.24L1188.8,2382.59M754.6,1517.83L1188.8,2382.84M754.6,1533.41L1188.8,2383.09M754.6,1549.00L1188.8,2383.34M754.6,1564.58L1188.8,2383.58M754.6,1580.16L1188.8,2383.83M754.6,1595.75L1188.8,2384.08M754.6,1611.33L1188.8,2384.33M754.6,1626.92L1188.8,2384.57M754.6,1642.50L1188.8,2384.82M754.6,1658.08L1188.8,2385.07M754.6,1673.67L1188.8,2385.32M754.6,1689.25L1188.8,2385.56M754.6,1704.84L1188.8,2385.81M754.6,1720.42L1188.8,2386.06M754.6,1736.00L1188.8,2386.31M754.6,1751.59L1188.8,2386.55M754.6,1767.17L1188.8,2386.80M754.6,1782.76L1188.8,2398.93M754.6,1798.34L1188.8,2387.05M754.6,1813.92L1188.8,2387.30M754.6,1829.51L1188.8,2387.54M754.6,1845.09L1188.8,2387.79M754.6,1860.68L1188.8,2388.04M754.6,1876.26L1188.8,2388.29M754.6,1891.84L1188.8,2365.60M754.6,1907.43L1188.8,2388.53M754.6,1923.01L1188.8,2399.18M754.6,1938.60L1188.8,2399.43M754.6,1954.18L1188.8,2388.78M754.6,1969.76L1188.8,2389.03M754.6,1985.35L1188.8,2399.68M754.6,2000.93L1188.8,2399.94M754.6,2016.52L1188.8,2400.19M754.6,2032.10L1188.8,2400.44M754.6,2047.68L1188.8,2400.69M754.6,2063.27L1188.8,2400.95M754.6,2078.85L1188.8,2389.28M754.6,2094.44L1188.8,2405.75M754.6,2110.02L1188.8,2401.20M754.6,2125.60L1188.8,2401.45M754.6,2141.19L1188.8,2401.70M754.6,2156.77L1188.8,2401.95M754.6,2172.36L1188.8,2402.21M754.6,2187.94L1188.8,2402.46M754.6,2203.52L1188.8,2402.71M754.6,2219.11L1188.8,2402.96M754.6,2234.69L1188.8,2403.22M754.6,2250.28L1188.8,2403.47M754.6,2265.86L1188.8,2403.72M754.6,2281.44L1188.8,2403.97M754.6,2297.03L1188.8,2180.00M754.6,2312.61L1188.8,2366.40M754.6,2328.20L1188.8,2397.40M754.6,2343.78L1188.8,2406.30M754.6,2359.36L1188.8,2406.25M754.6,2374.95L1188.8,2406.30M754.6,2390.53L1188.8,2406.30M754.6,2406.12L1188.8,2406.30" fill="none" stroke="#000" stroke-width="1.4"/>
<circle cx="754.6" cy="863.30" r="2.85"/>
<circle cx="754.6" cy="878.88" r="2.85"/>
<circle cx="754.6" cy="894.47" r="2.85"/>
<circle cx="754.6" cy="910.05" r="2.85"/>
<circle cx="754.6" cy="925.64" r="2.85"/>
<circle cx="754.6" cy="941.22" r="2.85"/>
<circle cx="754.6" cy="956.80" r="2.85"/>
<circle cx="754.6" cy="972.39" r="2.85"/>
<circle cx="754.6" cy="987.97" r="2.85"/>
<circle cx="754.6" cy="1003.56" r="2.85"/>
<circle cx="754.6" cy="1019.14" r="2.85"/>
<circle cx="754.6" cy="1034.72" r="2.85"/>
<circle cx="754.6" cy="1050.31" r="2.85"/>
<circle cx="754.6" cy="1065.89" r="2.85"/>
<circle cx="754.6" cy="1081.48" r="2.85"/>
<circle cx="754.6" cy="1097.06" r="2.85"/>
<circle cx="754.6" cy="1112.64" r="2.85"/>
<circle cx="754.6" cy="1128.23" r="2.85"/>
<circle cx="754.6" cy="1143.81" r="2.85"/>
<circle cx="754.6" cy="1159.40" r="2.85"/>
<circle cx="754.6" cy="1174.98" r="2.85"/>
<circle cx="754.6" cy="1190.56" r="2.85"/>
<circle cx="754.6" cy="1206.15" r="2.85"/>
<circle cx="754.6" cy="1221.73" r="2.85"/>
<circle cx="754.6" cy="1237.32" r="2.85"/>
<circle cx="754.6" cy="1252.90" r="2.85"/>
<circle cx="754.6" cy="1268.48" r="2.85"/>
<circle cx="754.6" cy="1284.07" r="2.85"/>
<circle cx="754.6" cy="1299.65" r="2.85"/>
<circle cx="754.6" cy="1315.24" r="2.85"/>
<circle cx="754.6" cy="1330.82" r="2.85"/>
<circle cx="754.6" cy="1346.40" r="2.85"/>
<circle cx="754.6" cy="1361.99" r="2.85"/>
<circle cx="754.6" cy="1377.57" r="2.85"/>
<circle cx="754.6" cy="1393.16" r="2.85"/>
<circle cx="754.6" cy="1408.74" r="2.85"/>
<circle cx="754.6" cy="1424.32" r="2.85"/>
<circle cx="754.6" cy="1439.91" r="2.85"/>
<circle cx="754.6" cy="1455.49" r="2.85"/>
<circle cx="754.6" cy="1471.08" r="2.85"/>
<circle cx="754.6" cy="1486.66" r="2.85"/>
<circle cx="754.6" cy="1502.24" r="2.85"/>
<circle cx="754.6" cy="1517.83" r="2.85"/>
<circle cx="754.6" cy="1533.41" r="2.85"/>
<circle cx="754.6" cy="1549.00" r="2.85"/>
<circle cx="754.6" cy="1564.58" r="2.85"/>
<circle cx="754.6" cy="1580.16" r="2.85"/>
<circle cx="754.6" cy="1595.75" r="2.85"/>
<circle cx="754.6" cy="1611.33" r="2.85"/>
<circle cx="754.6" cy="1626.92" r="2.85"/>
<circle cx="754.6" cy="1642.50" r="2.85"/>
<circle cx="754.6" cy="1658.08" r="2.85"/>
<circle cx="754.6" cy="1673.67" r="2.85"/>
<circle cx="754.6" cy="1689.25" r="2.85"/>
<circle cx="754.6" cy="1704.84" r="2.85"/>
<circle cx="754.6" cy="1720.42" r="2.85"/>
<circle cx="754.6" cy="1736.00" r="2.85"/>
<circle cx="754.6" cy="1751.59" r="2.85"/>
<circle cx="754.6" cy="1767.17" r="2.85"/>
<circle cx="754.6" cy="1782.76" r="2.85"/>
<circle cx="754.6" cy="1798.34" r="2.85"/>
<circle cx="754.6" cy="1813.92" r="2.85"/>
<circle cx="754.6" cy="1829.51" r="2.85"/>
<circle cx="754.6" cy="1845.09" r="2.85"/>
<circle cx="754.6" cy="1860.68" r="2.85"/>
<circle cx="754.6" cy="1876.26" r="2.85"/>
<circle cx="754.6" cy="1891.84" r="2.85"/>
<circle cx="754.6" cy="1907.43" r="2.85"/>
<circle cx="754.6" cy="1923.01" r="2.85"/>
<circle cx="754.6" cy="1938.60" r="2.85"/>
<circle cx="754.6" cy="1954.18" r="2.85"/>
<circle cx="754.6" cy="1969.76" r="2.85"/>
<circle cx="754.6" cy="1985.35" r="2.85"/>
<circle cx="754.6" cy="2000.93" r="2.85"/>
<circle cx="754.6" cy="2016.52" r="2.85"/>
<circle cx="754.6" cy="2032.10" r="2.85"/>
<circle cx="754.6" cy="2047.68" r="2.85"/>
<circle cx="754.6" cy="2063.27" r="2.85"/>
<circle cx="754.6" cy="2078.85" r="2.85"/>
<circle cx="754.6" cy="2094.44" r="2.85"/>
<circle cx="754.6" cy="2110.02" r="2.85"/>
<circle cx="754.6" cy="2125.60" r="2.85"/>
<circle cx="754.6" cy="2141.19" r="2.85"/>
<circle cx="754.6" cy="2156.77" r="2.85"/>
<circle cx="754.6" cy="2172.36" r="2.85"/>
<circle cx="754.6" cy="2187.94" r="2.85"/>
<circle cx="754.6" cy="2203.52" r="2.85"/>
<circle cx="754.6" cy="2219.11" r="2.85"/>
<circle cx="754.6" cy="2234.69" r="2.85"/>
<circle cx="754.6" cy="2250.28" r="2.85"/>
<circle cx="754.6" cy="2265.86" r="2.85"/>
<circle cx="754.6" cy="2281.44" r="2.85"/>
<circle cx="754.6" cy="2297.03" r="2.85"/>
<circle cx="754.6" cy="2312.61" r="2.85"/>
<circle cx="754.6" cy="2328.20" r="2.85"/>
<circle cx="754.6" cy="2343.78" r="2.85"/>
<circle cx="754.6" cy="2359.36" r="2.85"/>
<circle cx="754.6" cy="2374.95" r="2.85"/>
<circle cx="754.6" cy="2390.53" r="2.85"/>
<circle cx="754.6" cy="2406.12" r="2.85"/>
<circle cx="1188.8" cy="2292.40" r="2.85"/>
<circle cx="1188.8" cy="2374.92" r="2.85"/>
<circle cx="1188.8" cy="2375.17" r="2.85"/>
<circle cx="1188.8" cy="2375.42" r="2.85"/>
<circle cx="1188.8" cy="2375.67" r="2.85"/>
<circle cx="1188.8" cy="2375.91" r="2.85"/>
<circle cx="1188.8" cy="2376.16" r="2.85"/>
<circle cx="1188.8" cy="2376.41" r="2.85"/>
<circle cx="1188.8" cy="2376.66" r="2.85"/>
<circle cx="1188.8" cy="2376.90" r="2.85"/>
<circle cx="1188.8" cy="2377.15" r="2.85"/>
<circle cx="1188.8" cy="2362.20" r="2.85"/>
<circle cx="1188.8" cy="2377.40" r="2.85"/>
<circle cx="1188.8" cy="2364.30" r="2.85"/>
<circle cx="1188.8" cy="2364.80" r="2.85"/>
<circle cx="1188.8" cy="2377.65" r="2.85"/>
<circle cx="1188.8" cy="2377.89" r="2.85"/>
<circle cx="1188.8" cy="2378.14" r="2.85"/>
<circle cx="1188.8" cy="2368.50" r="2.85"/>
<circle cx="1188.8" cy="2378.39" r="2.85"/>
<circle cx="1188.8" cy="2378.64" r="2.85"/>
<circle cx="1188.8" cy="2378.88" r="2.85"/>
<circle cx="1188.8" cy="2379.13" r="2.85"/>
<circle cx="1188.8" cy="2379.38" r="2.85"/>
<circle cx="1188.8" cy="2379.63" r="2.85"/>
<circle cx="1188.8" cy="2405.50" r="2.85"/>
<circle cx="1188.8" cy="2379.87" r="2.85"/>
<circle cx="1188.8" cy="2393.40" r="2.85"/>
<circle cx="1188.8" cy="2380.12" r="2.85"/>
<circle cx="1188.8" cy="2406.00" r="2.85"/>
<circle cx="1188.8" cy="2148.30" r="2.85"/>
<circle cx="1188.8" cy="2369.50" r="2.85"/>
<circle cx="1188.8" cy="2380.37" r="2.85"/>
<circle cx="1188.8" cy="2380.62" r="2.85"/>
<circle cx="1188.8" cy="2380.86" r="2.85"/>
<circle cx="1188.8" cy="2381.11" r="2.85"/>
<circle cx="1188.8" cy="2381.36" r="2.85"/>
<circle cx="1188.8" cy="2381.61" r="2.85"/>
<circle cx="1188.8" cy="2381.85" r="2.85"/>
<circle cx="1188.8" cy="2382.10" r="2.85"/>
<circle cx="1188.8" cy="2382.35" r="2.85"/>
<circle cx="1188.8" cy="2382.59" r="2.85"/>
<circle cx="1188.8" cy="2382.84" r="2.85"/>
<circle cx="1188.8" cy="2383.09" r="2.85"/>
<circle cx="1188.8" cy="2383.34" r="2.85"/>
<circle cx="1188.8" cy="2383.58" r="2.85"/>
<circle cx="1188.8" cy="2383.83" r="2.85"/>
<circle cx="1188.8" cy="2384.08" r="2.85"/>
<circle cx="1188.8" cy="2384.33" r="2.85"/>
<circle cx="1188.8" cy="2384.57" r="2.85"/>
<circle cx="1188.8" cy="2384.82" r="2.85"/>
<circle cx="1188.8" cy="2385.07" r="2.85"/>
<circle cx="1188.8" cy="2385.32" r="2.85"/>
<circle cx="1188.8" cy="2385.56" r="2.85"/>
<circle cx="1188.8" cy="2385.81" r="2.85"/>
<circle cx="1188.8" cy="2386.06" r="2.85"/>
<circle cx="1188.8" cy="2386.31" r="2.85"/>
<circle cx="1188.8" cy="2386.55" r="2.85"/>
<circle cx="1188.8" cy="2386.80" r="2.85"/>
<circle cx="1188.8" cy="2398.93" r="2.85"/>
<circle cx="1188.8" cy="2387.05" r="2.85"/>
<circle cx="1188.8" cy="2387.30" r="2.85"/>
<circle cx="1188.8" cy="2387.54" r="2.85"/>
<circle cx="1188.8" cy="2387.79" r="2.85"/>
<circle cx="1188.8" cy="2388.04" r="2.85"/>
<circle cx="1188.8" cy="2388.29" r="2.85"/>
<circle cx="1188.8" cy="2365.60" r="2.85"/>
<circle cx="1188.8" cy="2388.53" r="2.85"/>
<circle cx="1188.8" cy="2399.18" r="2.85"/>
<circle cx="1188.8" cy="2399.43" r="2.85"/>
<circle cx="1188.8" cy="2388.78" r="2.85"/>
<circle cx="1188.8" cy="2389.03" r="2.85"/>
<circle cx="1188.8" cy="2399.68" r="2.85"/>
<circle cx="1188.8" cy="2399.94" r="2.85"/>
<circle cx="1188.8" cy="2400.19" r="2.85"/>
<circle cx="1188.8" cy="2400.44" r="2.85"/>
<circle cx="1188.8" cy="2400.69" r="2.85"/>
<circle cx="1188.8" cy="2400.95" r="2.85"/>
<circle cx="1188.8" cy="2389.28" r="2.85"/>
<circle cx="1188.8" cy="2405.75" r="2.85"/>
<circle cx="1188.8" cy="2401.20" r="2.85"/>
<circle cx="1188.8" cy="2401.45" r="2.85"/>
<circle cx="1188.8" cy="2401.70" r="2.85"/>
<circle cx="1188.8" cy="2401.95" r="2.85"/>
<circle cx="1188.8" cy="2402.21" r="2.85"/>
<circle cx="1188.8" cy="2402.46" r="2.85"/>
<circle cx="1188.8" cy="2402.71" r="2.85"/>
<circle cx="1188.8" cy="2402.96" r="2.85"/>
<circle cx="1188.8" cy="2403.22" r="2.85"/>
<circle cx="1188.8" cy="2403.47" r="2.85"/>
<circle cx="1188.8" cy="2403.72" r="2.85"/>
<circle cx="1188.8" cy="2403.97" r="2.85"/>
<circle cx="1188.8" cy="2180.00" r="2.85"/>
<circle cx="1188.8" cy="2366.40" r="2.85"/>
<circle cx="1188.8" cy="2397.40" r="2.85"/>
<circle cx="1188.8" cy="2406.30" r="2.85"/>
<circle cx="1188.8" cy="2406.25" r="2.85"/>
<circle cx="1188.8" cy="2406.30" r="2.85"/>
<circle cx="1188.8" cy="2406.30" r="2.85"/>
<circle cx="1188.8" cy="2406.30" r="2.85"/>
</g>
<g id="panel-c">
<text transform="translate(1124.80,898.50) scale(1.0050,1)" font-family="'DejaVu Sans','Verdana',sans-serif" font-size="64.5" text-anchor="start" fill="#000" stroke="#000" stroke-width="0.35">c</text>
<defs><linearGradient id="gc" gradientUnits="userSpaceOnUse" x1="0" y1="856.8" x2="0" y2="2407.9"><stop offset="0.00000" stop-color="#0000FF"/><stop offset="0.00001" stop-color="#0000FF"/><stop offset="0.00387" stop-color="#0000FF"/><stop offset="0.00774" stop-color="#0000FF"/><stop offset="0.01160" stop-color="#0000FF"/><stop offset="0.01547" stop-color="#0400FF"/><stop offset="0.01934" stop-color="#0800FF"/><stop offset="0.02321" stop-color="#0B00FE"/><stop offset="0.02708" stop-color="#0E00FE"/><stop offset="0.03095" stop-color="#1100FE"/><stop offset="0.03481" stop-color="#1300FE"/><stop offset="0.03868" stop-color="#1600FE"/><stop offset="0.04255" stop-color="#1800FD"/><stop offset="0.04642" stop-color="#1900FD"/><stop offset="0.05029" stop-color="#1B00FD"/><stop offset="0.05416" stop-color="#1D00FD"/><stop offset="0.05802" stop-color="#1E00FD"/><stop offset="0.06189" stop-color="#2000FD"/><stop offset="0.06576" stop-color="#2100FC"/><stop offset="0.06963" stop-color="#2300FC"/><stop offset="0.07350" stop-color="#2400FC"/><stop offset="0.07736" stop-color="#2500FC"/><stop offset="0.08123" stop-color="#2600FC"/><stop offset="0.08510" stop-color="#2800FB"/><stop offset="0.08897" stop-color="#2900FB"/><stop offset="0.09284" stop-color="#2A00FB"/><stop offset="0.09464" stop-color="#2A00FB"/><stop offset="0.09464" stop-color="#2A00FB"/><stop offset="0.09465" stop-color="#2A00FB"/><stop offset="0.09671" stop-color="#2B00FB"/><stop offset="0.10057" stop-color="#2D00FA"/><stop offset="0.10444" stop-color="#2F00FA"/><stop offset="0.10831" stop-color="#3000FA"/><stop offset="0.11218" stop-color="#3200FA"/><stop offset="0.11605" stop-color="#3300F9"/><stop offset="0.11991" stop-color="#3500F9"/><stop offset="0.12378" stop-color="#3600F9"/><stop offset="0.12765" stop-color="#3800F8"/><stop offset="0.13152" stop-color="#3900F8"/><stop offset="0.13539" stop-color="#3A00F8"/><stop offset="0.13926" stop-color="#3C00F7"/><stop offset="0.14312" stop-color="#3D00F7"/><stop offset="0.14699" stop-color="#3E00F7"/><stop offset="0.15086" stop-color="#3F00F6"/><stop offset="0.15473" stop-color="#4000F6"/><stop offset="0.15860" stop-color="#4100F6"/><stop offset="0.16149" stop-color="#4200F6"/><stop offset="0.16150" stop-color="#4200F6"/><stop offset="0.16150" stop-color="#4200F6"/><stop offset="0.16247" stop-color="#4200F6"/><stop offset="0.16633" stop-color="#4200F6"/><stop offset="0.17020" stop-color="#4200F6"/><stop offset="0.17407" stop-color="#4200F6"/><stop offset="0.17794" stop-color="#4200F6"/><stop offset="0.18181" stop-color="#4200F6"/><stop offset="0.18567" stop-color="#4200F6"/><stop offset="0.18954" stop-color="#4200F6"/><stop offset="0.19341" stop-color="#4200F6"/><stop offset="0.19728" stop-color="#4200F6"/><stop offset="0.20115" stop-color="#4200F6"/><stop offset="0.20502" stop-color="#4200F6"/><stop offset="0.20888" stop-color="#4200F6"/><stop offset="0.21275" stop-color="#4200F6"/><stop offset="0.21662" stop-color="#4200F6"/><stop offset="0.22049" stop-color="#4200F6"/><stop offset="0.22436" stop-color="#4200F6"/><stop offset="0.22823" stop-color="#4200F6"/><stop offset="0.23209" stop-color="#4200F6"/><stop offset="0.23596" stop-color="#4200F6"/><stop offset="0.23983" stop-color="#4200F6"/><stop offset="0.24370" stop-color="#4200F6"/><stop offset="0.24757" stop-color="#4200F6"/><stop offset="0.25143" stop-color="#4200F6"/><stop offset="0.25530" stop-color="#4200F6"/><stop offset="0.25917" stop-color="#4200F6"/><stop offset="0.26304" stop-color="#4200F6"/><stop offset="0.26691" stop-color="#4200F6"/><stop offset="0.27078" stop-color="#4200F6"/><stop offset="0.27464" stop-color="#4200F6"/><stop offset="0.27851" stop-color="#4200F6"/><stop offset="0.28238" stop-color="#4200F6"/><stop offset="0.28625" stop-color="#4200F6"/><stop offset="0.29012" stop-color="#4200F6"/><stop offset="0.29398" stop-color="#4200F6"/><stop offset="0.29785" stop-color="#4200F6"/><stop offset="0.30172" stop-color="#4200F6"/><stop offset="0.30559" stop-color="#4200F6"/><stop offset="0.30946" stop-color="#4200F6"/><stop offset="0.31333" stop-color="#4200F6"/><stop offset="0.31719" stop-color="#4200F6"/><stop offset="0.32106" stop-color="#4200F6"/><stop offset="0.32493" stop-color="#4200F6"/><stop offset="0.32880" stop-color="#4200F6"/><stop offset="0.33267" stop-color="#4200F6"/><stop offset="0.33654" stop-color="#4200F6"/><stop offset="0.34040" stop-color="#4200F6"/><stop offset="0.34427" stop-color="#4200F6"/><stop offset="0.34814" stop-color="#4200F6"/><stop offset="0.35201" stop-color="#4200F6"/><stop offset="0.35588" stop-color="#4200F6"/><stop offset="0.35974" stop-color="#4200F6"/><stop offset="0.36361" stop-color="#4200F6"/><stop offset="0.36748" stop-color="#4200F6"/><stop offset="0.37135" stop-color="#4200F6"/><stop offset="0.37522" stop-color="#4200F6"/><stop offset="0.37909" stop-color="#4200F6"/><stop offset="0.38295" stop-color="#4200F6"/><stop offset="0.38682" stop-color="#4200F6"/><stop offset="0.39069" stop-color="#4200F6"/><stop offset="0.39456" stop-color="#4200F6"/><stop offset="0.39843" stop-color="#4200F6"/><stop offset="0.40230" stop-color="#4200F6"/><stop offset="0.40616" stop-color="#4200F6"/><stop offset="0.41003" stop-color="#4200F6"/><stop offset="0.41312" stop-color="#4200F6"/><stop offset="0.41313" stop-color="#4200F6"/><stop offset="0.41313" stop-color="#4200F6"/><stop offset="0.41390" stop-color="#4200F6"/><stop offset="0.41777" stop-color="#4400F5"/><stop offset="0.42164" stop-color="#4500F5"/><stop offset="0.42550" stop-color="#4600F4"/><stop offset="0.42911" stop-color="#4800F4"/><stop offset="0.42911" stop-color="#4800F4"/><stop offset="0.42912" stop-color="#4800F4"/><stop offset="0.42937" stop-color="#4800F4"/><stop offset="0.43324" stop-color="#4900F3"/><stop offset="0.43711" stop-color="#4B00F3"/><stop offset="0.44098" stop-color="#4C00F2"/><stop offset="0.44485" stop-color="#4D00F2"/><stop offset="0.44871" stop-color="#4F00F2"/><stop offset="0.45258" stop-color="#5000F1"/><stop offset="0.45464" stop-color="#5000F1"/><stop offset="0.45465" stop-color="#5000F1"/><stop offset="0.45465" stop-color="#5000F1"/><stop offset="0.45645" stop-color="#5100F1"/><stop offset="0.46032" stop-color="#5200F0"/><stop offset="0.46419" stop-color="#5300F0"/><stop offset="0.46805" stop-color="#5400EF"/><stop offset="0.46972" stop-color="#5500EF"/><stop offset="0.46973" stop-color="#5500EF"/><stop offset="0.46974" stop-color="#5500EF"/><stop offset="0.47192" stop-color="#5500EF"/><stop offset="0.47579" stop-color="#5500EF"/><stop offset="0.47966" stop-color="#5600EF"/><stop offset="0.48353" stop-color="#5600EF"/><stop offset="0.48740" stop-color="#5600EF"/><stop offset="0.49126" stop-color="#5600EF"/><stop offset="0.49235" stop-color="#5600EF"/><stop offset="0.49236" stop-color="#5600EF"/><stop offset="0.49237" stop-color="#5700EF"/><stop offset="0.49513" stop-color="#5700EE"/><stop offset="0.49900" stop-color="#5800EE"/><stop offset="0.50287" stop-color="#5800EE"/><stop offset="0.50674" stop-color="#5900ED"/><stop offset="0.51028" stop-color="#5A00ED"/><stop offset="0.51028" stop-color="#5A00ED"/><stop offset="0.51029" stop-color="#5A00ED"/><stop offset="0.51061" stop-color="#5A00ED"/><stop offset="0.51447" stop-color="#5B00ED"/><stop offset="0.51834" stop-color="#5D00EC"/><stop offset="0.52221" stop-color="#5E00EB"/><stop offset="0.52608" stop-color="#6000EB"/><stop offset="0.52633" stop-color="#6000EB"/><stop offset="0.52634" stop-color="#6000EB"/><stop offset="0.52634" stop-color="#6000EB"/><stop offset="0.52995" stop-color="#6100EA"/><stop offset="0.53381" stop-color="#6300E9"/><stop offset="0.53768" stop-color="#6400E9"/><stop offset="0.54155" stop-color="#6500E8"/><stop offset="0.54516" stop-color="#6700E7"/><stop offset="0.54516" stop-color="#6700E7"/><stop offset="0.54517" stop-color="#6700E7"/><stop offset="0.54542" stop-color="#6700E7"/><stop offset="0.54929" stop-color="#6900E6"/><stop offset="0.55134" stop-color="#6A00E6"/><stop offset="0.55135" stop-color="#6A00E6"/><stop offset="0.55136" stop-color="#6A00E6"/><stop offset="0.55316" stop-color="#6B00E5"/><stop offset="0.55702" stop-color="#6D00E4"/><stop offset="0.56089" stop-color="#6F00E3"/><stop offset="0.56121" stop-color="#6F00E3"/><stop offset="0.56121" stop-color="#6F00E3"/><stop offset="0.56122" stop-color="#6F00E3"/><stop offset="0.56476" stop-color="#7000E2"/><stop offset="0.56863" stop-color="#7200E1"/><stop offset="0.57250" stop-color="#7300E0"/><stop offset="0.57539" stop-color="#7400E0"/><stop offset="0.57540" stop-color="#7400E0"/><stop offset="0.57540" stop-color="#7400E0"/><stop offset="0.57637" stop-color="#7500DF"/><stop offset="0.58023" stop-color="#7700DE"/><stop offset="0.58390" stop-color="#7900DD"/><stop offset="0.58391" stop-color="#7900DD"/><stop offset="0.58391" stop-color="#7900DD"/><stop offset="0.58410" stop-color="#7900DD"/><stop offset="0.58797" stop-color="#7C00DB"/><stop offset="0.59048" stop-color="#7D00DA"/><stop offset="0.59048" stop-color="#7D00DA"/><stop offset="0.59049" stop-color="#7D00DA"/><stop offset="0.59184" stop-color="#7E00DA"/><stop offset="0.59571" stop-color="#8000D8"/><stop offset="0.59757" stop-color="#8100D7"/><stop offset="0.59758" stop-color="#8100D7"/><stop offset="0.59758" stop-color="#8100D7"/><stop offset="0.59957" stop-color="#8200D7"/><stop offset="0.59970" stop-color="#8200D7"/><stop offset="0.59970" stop-color="#8200D7"/><stop offset="0.59971" stop-color="#8200D7"/><stop offset="0.60344" stop-color="#8200D7"/><stop offset="0.60731" stop-color="#8200D7"/><stop offset="0.61118" stop-color="#8200D7"/><stop offset="0.61505" stop-color="#8200D7"/><stop offset="0.61892" stop-color="#8200D7"/><stop offset="0.62278" stop-color="#8200D7"/><stop offset="0.62665" stop-color="#8200D7"/><stop offset="0.63052" stop-color="#8200D7"/><stop offset="0.63439" stop-color="#8200D7"/><stop offset="0.63826" stop-color="#8200D7"/><stop offset="0.64212" stop-color="#8200D7"/><stop offset="0.64599" stop-color="#8200D7"/><stop offset="0.64986" stop-color="#8200D7"/><stop offset="0.65373" stop-color="#8200D7"/><stop offset="0.65760" stop-color="#8200D7"/><stop offset="0.66147" stop-color="#8200D7"/><stop offset="0.66533" stop-color="#8200D7"/><stop offset="0.66920" stop-color="#8200D7"/><stop offset="0.67307" stop-color="#8200D7"/><stop offset="0.67694" stop-color="#8200D7"/><stop offset="0.68081" stop-color="#8200D7"/><stop offset="0.68468" stop-color="#8200D7"/><stop offset="0.68854" stop-color="#8200D7"/><stop offset="0.69241" stop-color="#8200D7"/><stop offset="0.69628" stop-color="#8200D7"/><stop offset="0.70015" stop-color="#8200D7"/><stop offset="0.70402" stop-color="#8200D7"/><stop offset="0.70788" stop-color="#8200D7"/><stop offset="0.71033" stop-color="#8200D7"/><stop offset="0.71033" stop-color="#8200D7"/><stop offset="0.71034" stop-color="#8200D7"/><stop offset="0.71175" stop-color="#8300D6"/><stop offset="0.71562" stop-color="#8500D5"/><stop offset="0.71864" stop-color="#8600D4"/><stop offset="0.71865" stop-color="#8600D3"/><stop offset="0.71866" stop-color="#8600D3"/><stop offset="0.71949" stop-color="#8600D3"/><stop offset="0.72336" stop-color="#8700D3"/><stop offset="0.72723" stop-color="#8800D2"/><stop offset="0.73044" stop-color="#8900D2"/><stop offset="0.73045" stop-color="#8900D2"/><stop offset="0.73046" stop-color="#8900D2"/><stop offset="0.73109" stop-color="#8900D1"/><stop offset="0.73496" stop-color="#8B00D0"/><stop offset="0.73805" stop-color="#8D00CE"/><stop offset="0.73806" stop-color="#8D00CE"/><stop offset="0.73806" stop-color="#8D00CE"/><stop offset="0.73883" stop-color="#8E00CE"/><stop offset="0.74270" stop-color="#9000CB"/><stop offset="0.74495" stop-color="#9200CA"/><stop offset="0.74496" stop-color="#9200CA"/><stop offset="0.74496" stop-color="#9200CA"/><stop offset="0.74657" stop-color="#9300C9"/><stop offset="0.75044" stop-color="#9400C8"/><stop offset="0.75430" stop-color="#9500C7"/><stop offset="0.75713" stop-color="#9600C6"/><stop offset="0.75714" stop-color="#9600C6"/><stop offset="0.75715" stop-color="#9600C6"/><stop offset="0.75817" stop-color="#9800C5"/><stop offset="0.76204" stop-color="#9B00C1"/><stop offset="0.76365" stop-color="#9D00C0"/><stop offset="0.76365" stop-color="#9D00C0"/><stop offset="0.76366" stop-color="#9D00C0"/><stop offset="0.76591" stop-color="#9E00BF"/><stop offset="0.76978" stop-color="#A000BD"/><stop offset="0.77267" stop-color="#A100BC"/><stop offset="0.77268" stop-color="#A100BC"/><stop offset="0.77268" stop-color="#A100BC"/><stop offset="0.77364" stop-color="#A200BB"/><stop offset="0.77544" stop-color="#A500B8"/><stop offset="0.77545" stop-color="#A500B8"/><stop offset="0.77546" stop-color="#A500B8"/><stop offset="0.77751" stop-color="#A500B8"/><stop offset="0.78138" stop-color="#A500B8"/><stop offset="0.78525" stop-color="#A500B8"/><stop offset="0.78912" stop-color="#A500B8"/><stop offset="0.79299" stop-color="#A500B8"/><stop offset="0.79685" stop-color="#A500B8"/><stop offset="0.80072" stop-color="#A500B8"/><stop offset="0.80459" stop-color="#A500B8"/><stop offset="0.80846" stop-color="#A500B8"/><stop offset="0.81233" stop-color="#A500B8"/><stop offset="0.81619" stop-color="#A500B8"/><stop offset="0.82006" stop-color="#A500B8"/><stop offset="0.82393" stop-color="#A500B8"/><stop offset="0.82780" stop-color="#A500B8"/><stop offset="0.83018" stop-color="#A500B8"/><stop offset="0.83019" stop-color="#A500B8"/><stop offset="0.83019" stop-color="#A500B8"/><stop offset="0.83167" stop-color="#A600B7"/><stop offset="0.83224" stop-color="#A700B6"/><stop offset="0.83225" stop-color="#A700B6"/><stop offset="0.83225" stop-color="#A700B6"/><stop offset="0.83554" stop-color="#A700B6"/><stop offset="0.83940" stop-color="#A800B5"/><stop offset="0.84056" stop-color="#A800B5"/><stop offset="0.84056" stop-color="#A800B5"/><stop offset="0.84057" stop-color="#A800B5"/><stop offset="0.84127" stop-color="#AA00B2"/><stop offset="0.84127" stop-color="#AA00B2"/><stop offset="0.84128" stop-color="#AA00B2"/><stop offset="0.84327" stop-color="#AC00B0"/><stop offset="0.84681" stop-color="#AF00AD"/><stop offset="0.84682" stop-color="#AF00AD"/><stop offset="0.84682" stop-color="#AF00AD"/><stop offset="0.84714" stop-color="#AF00AD"/><stop offset="0.85101" stop-color="#B000AC"/><stop offset="0.85165" stop-color="#B000AB"/><stop offset="0.85165" stop-color="#B000AB"/><stop offset="0.85166" stop-color="#B000AB"/><stop offset="0.85416" stop-color="#B200A9"/><stop offset="0.85417" stop-color="#B200A9"/><stop offset="0.85417" stop-color="#B200A9"/><stop offset="0.85488" stop-color="#B300A8"/><stop offset="0.85875" stop-color="#B700A3"/><stop offset="0.85996" stop-color="#B800A2"/><stop offset="0.85997" stop-color="#B800A2"/><stop offset="0.85998" stop-color="#B800A2"/><stop offset="0.86261" stop-color="#B900A0"/><stop offset="0.86441" stop-color="#BA009E"/><stop offset="0.86442" stop-color="#BA009E"/><stop offset="0.86443" stop-color="#BB009E"/><stop offset="0.86525" stop-color="#BD009B"/><stop offset="0.86526" stop-color="#BD009B"/><stop offset="0.86526" stop-color="#BD009B"/><stop offset="0.86648" stop-color="#BD009B"/><stop offset="0.87035" stop-color="#BD009B"/><stop offset="0.87422" stop-color="#BD009B"/><stop offset="0.87809" stop-color="#BD009B"/><stop offset="0.88195" stop-color="#BD009B"/><stop offset="0.88582" stop-color="#BD009B"/><stop offset="0.88969" stop-color="#BD009B"/><stop offset="0.89356" stop-color="#BD009B"/><stop offset="0.89743" stop-color="#BD009B"/><stop offset="0.90130" stop-color="#BD009B"/><stop offset="0.90290" stop-color="#BD009B"/><stop offset="0.90291" stop-color="#BD009B"/><stop offset="0.90291" stop-color="#BD009B"/><stop offset="0.90387" stop-color="#BE0099"/><stop offset="0.90387" stop-color="#BE0099"/><stop offset="0.90388" stop-color="#BE0099"/><stop offset="0.90516" stop-color="#BE0099"/><stop offset="0.90709" stop-color="#BF0099"/><stop offset="0.90710" stop-color="#BF0099"/><stop offset="0.90710" stop-color="#BF0099"/><stop offset="0.90903" stop-color="#BF0098"/><stop offset="0.91122" stop-color="#C00097"/><stop offset="0.91122" stop-color="#C00097"/><stop offset="0.91123" stop-color="#C00097"/><stop offset="0.91290" stop-color="#C20094"/><stop offset="0.91470" stop-color="#C30092"/><stop offset="0.91471" stop-color="#C30092"/><stop offset="0.91471" stop-color="#C30092"/><stop offset="0.91677" stop-color="#C40091"/><stop offset="0.91747" stop-color="#C40091"/><stop offset="0.91748" stop-color="#C40091"/><stop offset="0.91748" stop-color="#C40091"/><stop offset="0.92063" stop-color="#C7008D"/><stop offset="0.92064" stop-color="#C7008D"/><stop offset="0.92064" stop-color="#C7008D"/><stop offset="0.92160" stop-color="#C90089"/><stop offset="0.92160" stop-color="#C90089"/><stop offset="0.92161" stop-color="#C90089"/><stop offset="0.92398" stop-color="#CB0086"/><stop offset="0.92399" stop-color="#CB0086"/><stop offset="0.92400" stop-color="#CB0086"/><stop offset="0.92451" stop-color="#CC0085"/><stop offset="0.92534" stop-color="#CD0083"/><stop offset="0.92534" stop-color="#CD0083"/><stop offset="0.92535" stop-color="#CD0083"/><stop offset="0.92605" stop-color="#D0007E"/><stop offset="0.92605" stop-color="#D0007E"/><stop offset="0.92606" stop-color="#D0007E"/><stop offset="0.92837" stop-color="#D0007E"/><stop offset="0.93224" stop-color="#D0007E"/><stop offset="0.93611" stop-color="#D0007E"/><stop offset="0.93998" stop-color="#D0007E"/><stop offset="0.94385" stop-color="#D0007E"/><stop offset="0.94771" stop-color="#D0007E"/><stop offset="0.95158" stop-color="#D0007E"/><stop offset="0.95545" stop-color="#D0007E"/><stop offset="0.95932" stop-color="#D0007E"/><stop offset="0.96319" stop-color="#D0007E"/><stop offset="0.96389" stop-color="#D0007E"/><stop offset="0.96390" stop-color="#D0007E"/><stop offset="0.96390" stop-color="#D0007E"/><stop offset="0.96499" stop-color="#D1007C"/><stop offset="0.96499" stop-color="#D1007C"/><stop offset="0.96500" stop-color="#D1007C"/><stop offset="0.96706" stop-color="#D1007C"/><stop offset="0.97014" stop-color="#D1007C"/><stop offset="0.97015" stop-color="#D1007C"/><stop offset="0.97016" stop-color="#D1007C"/><stop offset="0.97092" stop-color="#D2007B"/><stop offset="0.97150" stop-color="#D2007A"/><stop offset="0.97150" stop-color="#D2007A"/><stop offset="0.97151" stop-color="#D2007A"/><stop offset="0.97176" stop-color="#D50076"/><stop offset="0.97176" stop-color="#D50076"/><stop offset="0.97177" stop-color="#D50076"/><stop offset="0.97330" stop-color="#D50075"/><stop offset="0.97331" stop-color="#D50075"/><stop offset="0.97332" stop-color="#D50075"/><stop offset="0.97453" stop-color="#D70071"/><stop offset="0.97453" stop-color="#D70071"/><stop offset="0.97454" stop-color="#D70071"/><stop offset="0.97479" stop-color="#D8006F"/><stop offset="0.97569" stop-color="#DC0068"/><stop offset="0.97569" stop-color="#DC0068"/><stop offset="0.97570" stop-color="#DC0068"/><stop offset="0.97704" stop-color="#DD0067"/><stop offset="0.97705" stop-color="#DD0067"/><stop offset="0.97705" stop-color="#DD0067"/><stop offset="0.97866" stop-color="#E00060"/><stop offset="0.97872" stop-color="#E00060"/><stop offset="0.97872" stop-color="#E00060"/><stop offset="0.97873" stop-color="#E00060"/><stop offset="0.98253" stop-color="#E00060"/><stop offset="0.98640" stop-color="#E00060"/><stop offset="0.98742" stop-color="#E00060"/><stop offset="0.98743" stop-color="#E00060"/><stop offset="0.98743" stop-color="#E00060"/><stop offset="0.98813" stop-color="#E1005F"/><stop offset="0.98814" stop-color="#E1005F"/><stop offset="0.98814" stop-color="#E1005F"/><stop offset="0.99026" stop-color="#E1005E"/><stop offset="0.99090" stop-color="#E1005D"/><stop offset="0.99091" stop-color="#E1005D"/><stop offset="0.99092" stop-color="#E2005D"/><stop offset="0.99161" stop-color="#E2005C"/><stop offset="0.99162" stop-color="#E2005C"/><stop offset="0.99163" stop-color="#E2005C"/><stop offset="0.99187" stop-color="#E40058"/><stop offset="0.99188" stop-color="#E40057"/><stop offset="0.99188" stop-color="#E40057"/><stop offset="0.99297" stop-color="#E50056"/><stop offset="0.99297" stop-color="#E50056"/><stop offset="0.99298" stop-color="#E50056"/><stop offset="0.99355" stop-color="#ED0044"/><stop offset="0.99355" stop-color="#ED0044"/><stop offset="0.99356" stop-color="#ED0043"/><stop offset="0.99413" stop-color="#EE0042"/><stop offset="0.99413" stop-color="#EE0042"/><stop offset="0.99414" stop-color="#EE0042"/><stop offset="0.99754" stop-color="#EE0041"/><stop offset="0.99755" stop-color="#EE0041"/><stop offset="0.99756" stop-color="#EE0041"/><stop offset="0.99800" stop-color="#F20038"/><stop offset="0.99838" stop-color="#F50030"/><stop offset="0.99839" stop-color="#F5002F"/><stop offset="0.99839" stop-color="#F5002F"/><stop offset="0.99948" stop-color="#F90020"/><stop offset="0.99948" stop-color="#F90020"/><stop offset="0.99949" stop-color="#FA001F"/><stop offset="0.99974" stop-color="#FF0002"/><stop offset="0.99974" stop-color="#FF0001"/><stop offset="0.99975" stop-color="#FF0001"/><stop offset="0.99999" stop-color="#FF0001"/><stop offset="1.00000" stop-color="#FF0001"/></linearGradient>
<linearGradient id="gl" x1="0" y1="1" x2="0" y2="0"><stop offset="0.000" stop-color="#0000FF"/><stop offset="0.050" stop-color="#4B00F3"/><stop offset="0.100" stop-color="#6800E7"/><stop offset="0.150" stop-color="#7C00DA"/><stop offset="0.200" stop-color="#8D00CE"/><stop offset="0.250" stop-color="#9A00C3"/><stop offset="0.300" stop-color="#A600B7"/><stop offset="0.350" stop-color="#B000AB"/><stop offset="0.400" stop-color="#BA009F"/><stop offset="0.450" stop-color="#C20094"/><stop offset="0.500" stop-color="#CA0088"/><stop offset="0.550" stop-color="#D1007D"/><stop offset="0.600" stop-color="#D70072"/><stop offset="0.650" stop-color="#DD0066"/><stop offset="0.700" stop-color="#E3005B"/><stop offset="0.750" stop-color="#E80050"/><stop offset="0.800" stop-color="#ED0044"/><stop offset="0.850" stop-color="#F20037"/><stop offset="0.900" stop-color="#F6002A"/><stop offset="0.950" stop-color="#FB001A"/><stop offset="1.000" stop-color="#FF0000"/></linearGradient></defs>
<polygon points="1214.8,856.8 1275.0,856.8 1285.0,1003.6 1296.9,1107.3 1296.6,1497.6 1300.5,1522.4 1307.1,1562.0 1310.7,1585.4 1312.2,1620.5 1315.1,1648.3 1321.0,1673.2 1328.3,1702.4 1332.0,1712.0 1338.5,1727.3 1345.1,1749.3 1351.7,1762.5 1357.6,1772.7 1363.7,1783.7 1365.3,1787.0 1365.3,1958.6 1372.2,1971.5 1376.1,1989.8 1384.1,2001.6 1393.7,2012.3 1402.3,2031.2 1416.3,2041.3 1426.0,2055.3 1433.5,2059.6 1433.5,2144.5 1438.9,2147.7 1441.4,2160.6 1447.5,2161.7 1459.3,2170.3 1463.6,2177.8 1469.0,2181.7 1486.1,2190.7 1493.7,2197.6 1501.6,2198.9 1501.6,2257.3 1505.1,2258.8 1506.6,2263.8 1510.9,2270.2 1522.7,2275.6 1524.8,2279.9 1534.5,2284.8 1544.2,2286.3 1549.5,2290.0 1557.1,2292.1 1570.4,2293.2 1570.4,2351.9 1573.2,2353.6 1574.7,2361.6 1578.6,2363.7 1589.3,2364.1 1590.4,2366.5 1600.0,2368.4 1620.5,2370.2 1623.7,2372.3 1639.8,2374.9 1639.8,2388.4 1643.0,2389.5 1646.3,2393.8 1649.5,2394.9 1660.2,2395.3 1663.4,2397.0 1706.1,2397.9 1710.5,2398.8 1711.4,2404.1 1748.9,2405.4 1777.5,2407.1 1812.3,2407.5 1812.3,2407.9 1214.8,2407.9" fill="url(#gc)"/>
<line x1="1364.4" y1="860.2" x2="1364.4" y2="2407" stroke="#000" stroke-width="1.4" stroke-dasharray="8.3 3.81"/>
<line x1="1512.9" y1="860.2" x2="1512.9" y2="2407" stroke="#000" stroke-width="1.4" stroke-dasharray="8.3 3.81"/>
<line x1="1661.4" y1="860.2" x2="1661.4" y2="2407" stroke="#000" stroke-width="1.4" stroke-dasharray="8.3 3.81"/>
<line x1="1809.9" y1="860.2" x2="1809.9" y2="2407" stroke="#000" stroke-width="1.4" stroke-dasharray="8.3 3.81"/>
<rect x="1596" y="1451" width="318" height="48" fill="#fff"/>
<text transform="translate(1601.00,1483.30)" font-family="'DejaVu Sans','Verdana',sans-serif" font-size="25.5" text-anchor="start" fill="#000" stroke="#000" stroke-width="0.35">-log10(wilcoxon pvalue)</text>
<rect x="1718.4" y="1504.5" width="29.2" height="143.1" fill="url(#gl)"/>
<path d="M1718.4,1505.4h5.8M1747.6,1505.4h-5.8" stroke="#fff" stroke-width="1" opacity="0.85"/>
<text transform="translate(1756.20,1510.40)" font-family="'Liberation Sans','Arial',sans-serif" font-size="14" text-anchor="start" fill="#000">20</text>
<path d="M1718.4,1544.5h5.8M1747.6,1544.5h-5.8" stroke="#fff" stroke-width="1" opacity="0.85"/>
<text transform="translate(1756.20,1549.50)" font-family="'Liberation Sans','Arial',sans-serif" font-size="14" text-anchor="start" fill="#000">15</text>
<path d="M1718.4,1584.3h5.8M1747.6,1584.3h-5.8" stroke="#fff" stroke-width="1" opacity="0.85"/>
<text transform="translate(1756.20,1589.30)" font-family="'Liberation Sans','Arial',sans-serif" font-size="14" text-anchor="start" fill="#000">10</text>
<path d="M1718.4,1624.1h5.8M1747.6,1624.1h-5.8" stroke="#fff" stroke-width="1" opacity="0.85"/>
<text transform="translate(1756.20,1629.10)" font-family="'Liberation Sans','Arial',sans-serif" font-size="14" text-anchor="start" fill="#000">5</text>
<path d="M1207.3,2417.6H1871.7" stroke="#000" stroke-width="1.6"/>
<line x1="1215.9" y1="2412.7" x2="1215.9" y2="2419.8" stroke="#000" stroke-width="1.6"/>
<line x1="1364.4" y1="2412.7" x2="1364.4" y2="2419.8" stroke="#000" stroke-width="1.6"/>
<line x1="1512.9" y1="2412.7" x2="1512.9" y2="2419.8" stroke="#000" stroke-width="1.6"/>
<line x1="1661.4" y1="2412.7" x2="1661.4" y2="2419.8" stroke="#000" stroke-width="1.6"/>
<line x1="1809.9" y1="2412.7" x2="1809.9" y2="2419.8" stroke="#000" stroke-width="1.6"/>
<text transform="translate(1218.10,2446.00)" font-family="'DejaVu Sans','Verdana',sans-serif" font-size="25.5" text-anchor="middle" fill="#000" stroke="#000" stroke-width="0.35">0</text>
<text transform="translate(1363.60,2446.00)" font-family="'DejaVu Sans','Verdana',sans-serif" font-size="25.5" text-anchor="middle" fill="#000" stroke="#000" stroke-width="0.35">5</text>
<text transform="translate(1514.60,2446.00)" font-family="'DejaVu Sans','Verdana',sans-serif" font-size="25.5" text-anchor="middle" fill="#000" stroke="#000" stroke-width="0.35">10</text>
<text transform="translate(1663.00,2446.00)" font-family="'DejaVu Sans','Verdana',sans-serif" font-size="25.5" text-anchor="middle" fill="#000" stroke="#000" stroke-width="0.35">15</text>
<text transform="translate(1808.80,2446.00)" font-family="'DejaVu Sans','Verdana',sans-serif" font-size="25.5" text-anchor="middle" fill="#000" stroke="#000" stroke-width="0.35">20</text>
<text transform="translate(1599.30,2487.20) scale(1.0080,1)" font-family="'DejaVu Sans','Verdana',sans-serif" font-size="34" text-anchor="middle" fill="#000" stroke="#000" stroke-width="0.35">-log10(wilcoxon pvalue)</text>
</g>
</svg></body></html>
